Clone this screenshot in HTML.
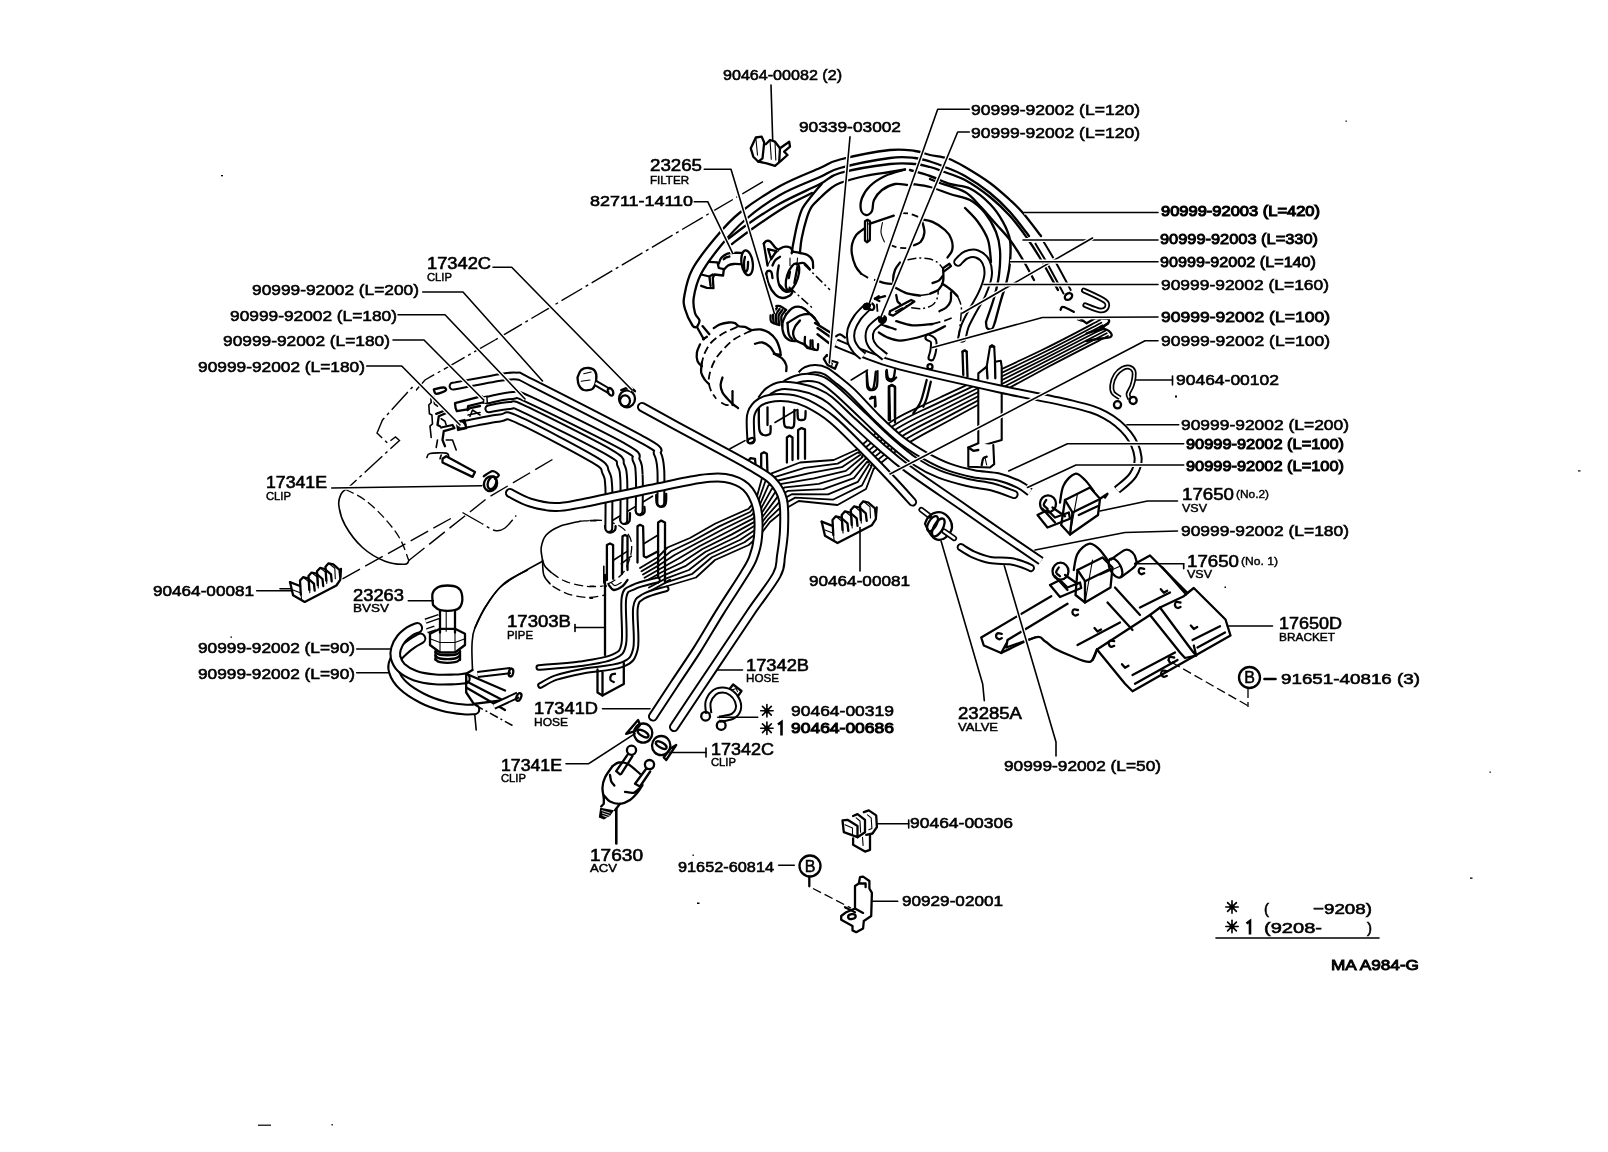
<!DOCTYPE html>
<html>
<head>
<meta charset="utf-8">
<title>Vacuum Piping</title>
<style>
html,body{margin:0;padding:0;background:#fff;}
body{width:1608px;height:1152px;overflow:hidden;font-family:"Liberation Sans",sans-serif;}
svg{display:block;position:absolute;left:0;top:0;filter:grayscale(1);}
text{font-family:"Liberation Sans",sans-serif;fill:#000;stroke:#000;stroke-width:.6px;}
.p{font-size:15.3px;}
.k{font-size:16.3px;letter-spacing:0;}
.s{font-size:11.3px;stroke-width:.45px;}
.m{font-size:11px;stroke-width:.4px;}
.ln{fill:none;stroke:#000;stroke-width:1.6;stroke-linecap:round;stroke-linejoin:round;}
.th{fill:none;stroke:#000;stroke-width:2.3;stroke-linecap:round;stroke-linejoin:round;}
.tn{fill:none;stroke:#000;stroke-width:1.1;stroke-linecap:round;stroke-linejoin:round;}
.w{fill:#fff;stroke:#000;stroke-width:2.1;stroke-linecap:round;stroke-linejoin:round;}
.dd{fill:none;stroke:#000;stroke-width:1.4;stroke-dasharray:24 4 3 4;}
.da3{fill:none;stroke:#000;stroke-width:1.4;stroke-dasharray:20 6;}
.dd2{fill:none;stroke:#000;stroke-width:1.5;stroke-dasharray:9 3 2 3;}
.da2{fill:none;stroke:#000;stroke-width:1.8;stroke-dasharray:8 4;}
.da{fill:none;stroke:#000;stroke-width:1.3;stroke-dasharray:9 4;}
</style>
</head>
<body>
<svg width="1608" height="1152" viewBox="0 0 1608 1152">
<rect x="0" y="0" width="1608" height="1152" fill="#fff"/>

<g id="art">
<defs>
<path id="h1" d="M1038.5 241C1040.6 244.5 1046.2 253.4 1051 262C1055.8 270.6 1064.8 287.4 1067.5 292.5"/>
<path id="h2" d="M958 262C959.3 260.8 962.8 256.3 966 255C969.2 253.7 973.7 252.8 977 254C980.3 255.2 984.2 258.3 986 262C987.8 265.7 988.7 270.7 988 276C987.3 281.3 984.7 288 982 294C979.3 300 974.8 306.7 972 312C969.2 317.3 966.7 321.7 965 326C963.3 330.3 962.5 336 962 338"/>
<path id="h3" d="M928.3 337.5C929.2 338.1 932.5 338.8 933.3 340.8C934.2 342.9 933.7 347.2 933.3 350C933 352.8 931.7 356.2 931.3 357.5"/>
<path id="h4" d="M595.5 383L609.5 391.2"/>
<path id="h5" d="M453 386.2C460.8 384.8 489.2 379.2 500 377.5C510.8 375.8 512.1 375.3 517.5 376.2C522.9 377.2 511.2 372.2 532.5 383C553.8 393.8 624.2 429.5 645 441.2C665.8 453 654.9 449 657.5 453.8C660.1 458.5 660.2 461.8 660.8 470C661.3 478.2 660.8 497.5 660.8 503"/>
<path id="h6" d="M487.5 400C491.7 399.2 505.4 395.5 512.5 395.5C519.6 395.5 511.2 391.3 530 400C548.8 408.7 607.3 437.5 625 447.5C642.7 457.5 633.9 455.4 636.2 460C638.6 464.6 638.8 466.5 639.2 475C639.8 483.5 639.2 505 639.2 511"/>
<path id="h7" d="M488.8 408.8C492.3 408.2 504 405.4 510 405.5C516 405.6 508.4 401.7 525 409.5C541.6 417.3 593.5 443.2 609.5 452.5C625.5 461.8 618.4 460.4 620.8 465C623.1 469.6 623.2 470.8 623.8 480C624.2 489.2 623.8 513.8 623.8 520.5"/>
<path id="h8" d="M461.2 425C467.7 423.8 490.6 418.9 500 418C509.4 417.1 501.9 412.6 517.5 419.5C533.1 426.4 579 450.7 593.8 459.5C608.5 468.3 603.2 467.8 605.8 472.5C608.2 477.2 608.2 478.2 608.8 487.5C609.2 496.8 608.8 521.7 608.8 528.5"/>
<path id="h9" d="M510 493C513.3 494.6 522.5 500.2 530 502.5C537.5 504.8 546.7 506.8 555 507C563.3 507.2 564.2 506.7 580 503.7C595.8 500.7 630 493.1 650 489C670 484.9 687.5 480.8 700 479C712.5 477.2 717.3 476.7 725 478C732.7 479.3 740.7 482 746 487C751.3 492 755 499.7 757 508C759 516.3 758.7 528.7 758 537C757.3 545.3 755.4 551.7 753 558C750.6 564.3 749.2 566 743.7 575C738.2 584 727.8 599.5 720 612C712.2 624.5 704.4 638.2 696.9 650C689.4 661.8 682.3 671.9 675 683C667.7 694.1 656.7 710.9 653 716.5"/>
<path id="h10" d="M642 407C651.7 412.3 682 428.9 700 438.7C718 448.5 737.9 458.9 750 466C762.1 473.1 767 475.3 772.5 481C778 486.7 781.1 491.8 783 500C784.9 508.2 784.3 520.7 784 530C783.7 539.3 782.2 548.5 781 556C779.8 563.5 781.7 565.7 776.7 575C771.7 584.3 759.5 599.5 751 612C742.5 624.5 734 637.3 725.5 650C717 662.7 708.6 675.2 700 688C691.4 700.8 678.3 720.5 674 727"/>
<path id="h11" d="M801 375C801.8 374.3 803.6 371.7 806 370.6C808.4 369.6 812.2 368.6 815.5 368.7C818.8 368.8 822 369.2 825.6 371C829.2 372.8 832.6 375.9 837 379.4C841.4 382.9 845.3 385.6 852 392C858.7 398.4 868.7 409.9 877 418C885.3 426.1 893.9 434.3 902 440.6C910.1 446.9 917.8 451.6 925.6 456C933.4 460.4 940.7 464.1 948.7 467C956.7 469.9 965.4 472 973.7 473.7C982 475.4 991.2 475.2 998.7 477C1006.2 478.8 1013.5 481.9 1018.7 484.4C1023.9 486.9 1028.1 490.7 1030 492"/>
<path id="h12" d="M786 384C787.6 383.2 791.7 380.5 795.5 379.4C799.3 378.3 804.4 377.3 809 377.5C813.6 377.7 818 378 823 380.6C828 383.2 832.1 386.9 839 393C845.9 399.1 856 409.1 864.4 417C872.8 424.9 880.8 433.1 889.4 440.6C898 448.1 907.7 456.4 916 462C924.3 467.6 930.4 470.6 939 474C947.6 477.4 958.6 480.3 967.5 482.5C976.4 484.7 984.8 485 992.5 487C1000.2 489 1010.4 493.2 1014 494.5"/>
<path id="h13" d="M761 400C762.3 398.5 765.3 393.4 768.6 391C771.9 388.6 775.9 386.3 781 385.6C786.1 384.9 793.2 385.9 799 387C804.8 388.1 810.8 389.8 816 392C821.2 394.2 824 395.2 830 400C836 404.8 843.7 412.9 852 420.6C860.3 428.3 870.7 438 880 446C889.3 454 894.4 458.9 907.7 468.7C921 478.5 944.6 494.3 960 505C975.4 515.7 986.5 523.7 1000 533C1013.5 542.3 1034.2 556.3 1041 561"/>
<path id="h14" d="M751 440C750.9 436 749.6 421.9 750.6 416C751.6 410.1 754 407.3 757 404.4C760 401.5 763.4 399.8 768.7 398.7C774 397.6 782.2 397.2 788.7 398C795.2 398.8 800.3 400.1 807.5 403.7C814.7 407.3 823.1 412.1 832 419.4C840.9 426.7 850.9 437.4 861 447.5C871.1 457.6 883.9 470.9 892.5 480C901.1 489.1 909.2 498.3 912.5 502"/>
<path id="h15" d="M420.4 638.5C419.1 639.3 415.3 641.2 412.5 643.1C409.7 645 406.7 647.2 403.8 650C400.8 652.8 396.7 656.5 395 660C393.3 663.5 392.4 667 393.8 671.2C395.1 675.5 398.4 681.1 403.1 685.6C407.8 690.1 415.1 694.7 421.9 698.1C428.6 701.6 436.8 704.4 443.8 706.2C450.7 708.1 458.6 708.9 463.8 709.4C468.9 709.9 472.6 709.4 474.4 709.4"/>
<path id="h16" d="M417.2 627.9C416 628.4 412.7 629.4 410 631.2C407.3 633.1 403.6 635.8 401.2 638.8C398.9 641.7 396.9 645.6 396 648.8C395.1 651.9 394.8 654.4 395.6 657.5C396.5 660.6 398 664.5 401.2 667.5C404.5 670.5 409.4 673.6 415 675.6C420.6 677.6 428.3 678.8 435 679.4C441.7 680 450 679.5 455 679.4C460 679.2 463.1 678.6 464.8 678.5"/>
<path id="h17" d="M425.5 621.2L439 616.5"/>
<path id="h18" d="M427 630.8L435 628"/>
<path id="h19" d="M477.5 674.5L510.5 670.5"/>
<path id="h20" d="M493.8 706.2L518 695"/>
<path id="h21" d="M666.2 588.8C662.5 590 648.9 593.1 643.8 596.2C638.6 599.4 636.9 598.8 635.5 607.5C634.1 616.2 637.7 639.2 635.5 648.8C633.3 658.2 631.3 660.8 622.5 664.5C613.7 668.2 593.5 669.1 582.5 671.2C571.5 673.4 563.2 675.1 556.2 677.5C549.2 679.9 543.1 684.2 540.5 685.5"/>
<path id="h22" d="M657.5 580C653.5 581.2 639.3 584.1 633.8 587C628.2 589.9 625.7 588 624 597.5C622.3 607 625.7 633.8 623.8 643.8C621.8 653.7 619.8 653.7 612.5 657C605.2 660.3 592.3 662 580 663.8C567.7 665.5 545.6 666.9 538.8 667.5"/>
<path id="h23" d="M836 343C840 344.6 849.3 348.7 860 352.5C870.7 356.3 876.7 359.9 900 366C923.3 372.1 971.3 382.7 1000 389C1028.7 395.3 1054.5 399.7 1072 404C1089.5 408.3 1095.7 410 1105 415C1114.3 420 1122.5 427 1128 434C1133.5 441 1137.2 450.2 1138 457C1138.8 463.8 1136.5 469.5 1133 475C1129.5 480.5 1119.7 487.5 1117 490"/>
<path id="h24" d="M868.1 306.2C866.4 308.1 860.3 313.5 857.5 317.5C854.7 321.5 852.3 326 851.2 330C850.2 334 850.4 337.9 851.2 341.2C852.1 344.6 854.3 347.5 856.2 350C858.2 352.5 862 355.2 863.1 356.2"/>
<path id="h25" d="M882.5 318.8C880.6 320.4 873.4 325.4 871.2 328.8C869.1 332.1 869 335.6 869.4 338.8C869.8 341.9 871.1 344.5 873.8 347.5C876.4 350.5 883.1 355.3 885 356.9"/>
<path id="h26" d="M1083.8 290.4C1087.3 292.1 1101.2 298.1 1105 301C1108.8 303.9 1107.3 306.3 1106.5 307.9C1105.7 309.4 1103.5 310.8 1100 310.4C1096.5 309.9 1087.7 306 1085.2 305.1"/>
<path id="h27" d="M1120 397.9C1118.9 397 1114.5 395.1 1113.1 392.9C1111.8 390.7 1111.5 387.8 1111.9 384.8C1112.3 381.7 1113.9 377.5 1115.6 374.8C1117.4 372 1120.2 369.8 1122.5 368.5C1124.8 367.2 1127.5 366.8 1129.4 367.2C1131.2 367.7 1133 369.3 1133.8 371C1134.5 372.7 1134.3 374.8 1134 377.2C1133.7 379.8 1132.9 383.2 1131.9 386C1130.9 388.8 1128.4 391.9 1128.1 394.1C1127.8 396.3 1129.7 398.3 1130 399.1"/>
<path id="h28" d="M921.3 509.7L929.2 515.8"/>
<path id="h29" d="M944.2 531.3L954.2 538.3"/>
<path id="h30" d="M960.8 547.2C962.9 548.4 968.5 552.4 973.3 554.5C978.2 556.6 983.9 558.9 990 560C996.1 561.1 1004.4 560.4 1010 561.2C1015.6 561.9 1019.9 563.5 1023.3 564.7C1026.8 565.8 1029.6 567.4 1030.8 568"/>
<path id="h31" d="M708.8 713.5C708.6 711.6 707.3 705.7 708.1 702.2C709 698.8 711.4 694.9 713.8 692.9C716.1 690.8 719.6 690 722.5 690C725.4 690 728.8 691 731.2 692.9C733.8 694.7 736.4 698.2 737.5 701C738.6 703.8 738.9 707.2 738.1 709.8C737.4 712.2 735.5 714.5 733.1 716C730.7 717.5 726 718 723.8 718.5C721.5 719 720.1 719 719.4 719.1"/>
</defs>
<!-- a_dome -->
<path class="th" d="M697 327C696.2 326.8 694.5 328.5 692.5 325.5C690.5 322.5 686.4 314 685 309C683.6 304 683.1 302.2 684.4 295.5C685.6 288.8 687.2 278.8 692.5 269C697.8 259.2 708.1 246.4 716 237C723.9 227.6 729.3 221 740 212.5C750.7 204 766.7 193.4 780 186C793.3 178.6 810 172.4 820 168C830 163.6 828.3 162.5 840 159.5C851.7 156.5 877.5 151.4 890 150C902.5 148.6 908.3 150.2 915 151C921.7 151.8 924.5 153.8 930 155C935.5 156.2 942.2 156.5 948 158.5C953.8 160.5 958 162.9 965 167C972 171.1 982.5 177.5 990 183C997.5 188.5 1004.5 195 1010 200C1015.5 205 1017.8 207 1023 213C1028.2 219 1038 232.2 1041 236"/>
<path class="th" d="M697 327C697.4 325.9 699.8 322.8 699.5 320.5C699.2 318.2 696 316.8 695 313C694 309.2 692.7 304.5 693.7 298C694.7 291.5 696.5 282.8 701 274C705.5 265.2 713.7 254.5 721 245.5C728.3 236.5 735.2 228.4 745 220C754.8 211.6 767.5 202.2 780 195C792.5 187.8 810 181.5 820 177C830 172.5 828.3 171.2 840 168C851.7 164.8 877.5 159.7 890 158C902.5 156.3 908.3 157.4 915 158C921.7 158.6 925 160 930 161.5C935 163 939.2 164.6 945 167C950.8 169.4 957.5 171.7 965 176C972.5 180.3 982.5 187 990 193C997.5 199 1003.5 204.8 1010 212C1016.5 219.2 1025.8 232 1029 236"/>
<path class="th" d="M727 240C730.5 237.3 739.2 230.1 748 224C756.8 217.9 768 210.2 780 203.5C792 196.8 810 189.1 820 184C830 178.9 828.3 176.3 840 173C851.7 169.7 877.5 165.5 890 164C902.5 162.5 908.3 163.5 915 164C921.7 164.5 925.3 165.8 930 167C934.7 168.2 937.2 169.3 943 171.5C948.8 173.7 957.2 175.8 965 180C972.8 184.2 982.5 191 990 197C997.5 203 1003.8 209.2 1010 216C1016.2 222.8 1022 231 1027 238C1032 245 1034.8 249.3 1040 258C1045.2 266.7 1055 284.7 1058 290"/>
<use href="#h1" fill="none" stroke="#000" stroke-width="10" stroke-linecap="butt" stroke-linejoin="round"/>
<use href="#h1" fill="none" stroke="#fff" stroke-width="6" stroke-linecap="butt" stroke-linejoin="round"/>
<ellipse class="th" cx="1068.5" cy="296.5" rx="4" ry="3" transform="rotate(-35 1068.5 296.5)"/>
<path class="th" d="M732 244C735.3 241.5 743.2 235.2 752 229C760.8 222.8 775 213 785 207C795 201 807.5 195.3 812 193"/>
<path class="th" d="M800 252C800.3 249.7 800.6 243.9 801.7 238.3C802.8 232.7 805 223.6 806.7 218.3C808.4 213 809.5 210.1 811.7 206.7C813.9 203.3 817 200.9 820 198C823 195.1 826.7 191.5 830 189C833.3 186.5 834.2 185.2 840 183C845.8 180.8 856.7 177.8 865 176C873.3 174.2 883.3 173.1 890 172C896.7 170.9 902.5 169.9 905 169.5"/>
<path class="th" d="M791.7 253.3C792 251.6 792.3 248.3 793.3 243.3C794.3 238.3 796 229.1 797.5 223.3C799 217.5 800.1 212.9 802.5 208.3C804.9 203.7 808.5 199.9 811.7 195.8C815 191.7 820.3 185.6 822 183.5"/>
<path class="th" style="stroke-width:2.4" d="M910 170C913.3 171 923.3 173.7 930 176C936.7 178.3 943.3 181.9 950 184C956.7 186.1 963.3 185.2 970 188.5C976.7 191.8 984.5 198.4 990 204C995.5 209.6 999.7 216 1003 222C1006.3 228 1008.8 233.3 1010 240C1011.2 246.7 1010.5 255.3 1010 262C1009.5 268.7 1008.5 273.7 1007 280C1005.5 286.3 1003 293 1001 300C999 307 996 318.3 995 322"/>
<path class="th" d="M912 184C915 184.5 923.7 185.3 930 187C936.3 188.7 943.3 191.8 950 194C956.7 196.2 964.2 196.8 970 200C975.8 203.2 980.7 207.7 985 213C989.3 218.3 993.5 225.8 996 232C998.5 238.2 999.5 242.8 1000 250C1000.5 257.2 1000 267 999 275C998 283 996.2 290.2 994 298C991.8 305.8 987.3 318 986 322"/>
<path class="th" d="M930 179C931.7 179.7 934.2 180.8 940 183C945.8 185.2 958.3 188.2 965 192C971.7 195.8 974.8 200.7 980 206C985.2 211.3 991 218.3 996 224C1001 229.7 1005.5 234 1010 240C1014.5 246 1019 253.3 1023 260C1027 266.7 1032.2 276.7 1034 280"/>
<path class="th" d="M965 208C967.2 210.3 974.2 216.7 978 222C981.8 227.3 985.8 233.3 988 240C990.2 246.7 990.5 258.3 991 262"/>
<path class="th" d="M986 322C986.2 323 986 326.8 987 328C988 329.2 990.7 330 992 329C993.3 328 994.5 323.2 995 322"/>
<path class="th" d="M905 169.5C901.7 170.6 890.8 173.2 885 176C879.2 178.8 873.8 182.3 870 186C866.2 189.7 863.5 194 862 198C860.5 202 860.3 207.2 861 210C861.7 212.8 864.2 214.8 866 215C867.8 215.2 870.7 213.5 872 211C873.3 208.5 872.3 203.5 874 200C875.7 196.5 878.5 192.7 882 190C885.5 187.3 890.8 184.8 895 184C899.2 183.2 905 184.8 907 185"/>
<use href="#h2" fill="none" stroke="#000" stroke-width="9.5" stroke-linecap="round" stroke-linejoin="round"/>
<use href="#h2" fill="none" stroke="#fff" stroke-width="5.5" stroke-linecap="round" stroke-linejoin="round"/>
<!-- a_dome2 -->
<path class="th" d="M697.5 328L703.8 339.2"/>
<path class="th" d="M702.5 326.1L709.4 334.2"/>
<path class="th" d="M703.1 339.2L706.9 336.8"/>
<path class="th" d="M718.8 263.6C719.2 262.7 719.8 259.7 721.2 258C722.7 256.3 725.2 254.5 727.5 253.6C729.8 252.8 732.6 252.9 735 252.8C737.4 252.6 740.7 253 741.9 253"/>
<path class="th" d="M723.8 259.2C724.2 258.9 725.3 257.8 726.2 257.4C727.2 256.9 728.9 256.6 729.4 256.5"/>
<path class="th" d="M723.8 269.9C724.5 269.1 726.5 266.5 728.1 265.5C729.8 264.5 731.6 264.2 733.8 264C735.9 263.8 740 264.2 741.2 264.2"/>
<ellipse class="th" cx="747.1" cy="262.8" rx="5.6" ry="12.5" transform="rotate(-8 747.1 262.8)"/>
<path class="th" d="M745 256.8C744.8 257.8 744 260.5 744 263C744 265.5 744.4 270.7 745 271.8C745.6 272.8 747 270.9 747.5 269.2C748 267.6 748 263 748.1 261.8"/>
<path class="th" d="M708.8 261.8L717.5 262.4L718.8 268L723.8 269.2L723.1 275.5L714.4 274.5L712.8 278L713.5 288.2L706.9 287.8L701.2 285.8"/>
<path class="th" d="M701.2 274.5L709.4 276.5L710.6 285.8"/>
<path class="th" d="M709.4 276.5L712.8 274.5"/>
<path class="th" d="M763.8 243.6C764.2 243.2 765.2 241.5 766.2 241.1C767.3 240.8 768.4 240.1 770.2 241.5C772.1 242.9 775.2 248.4 777.5 249.2C779.8 250.1 781.7 247.1 783.8 246.8C785.8 246.4 788.4 246.5 790 247.4C791.6 248.2 792.6 251 793.1 251.8"/>
<path class="th" d="M763.8 243.6L767.5 265.5"/>
<path class="th" d="M768.1 249.2L771.2 259.2L776.2 251.1L768.1 249.2"/>
<path class="tn" d="M767.5 265.5C768.3 264 770.6 259.2 772.5 256.8C774.4 254.2 777.7 251.5 778.8 250.5"/>
<path class="th" d="M793.1 251.8C794.3 252 797.6 252.5 800 253C802.4 253.5 805.4 253.6 807.5 254.9C809.6 256.1 811.6 258.3 812.5 260.5C813.4 262.7 813 266.8 813.1 268"/>
<path class="th" d="M766.2 273.6C766.5 273.2 766.7 271.4 767.5 271.1C768.3 270.8 770.4 270.6 771.2 271.8C772.1 272.9 772.3 277 772.5 278"/>
<path class="th" d="M766.2 273.6C766.7 275.4 767.3 280.8 768.8 284.2C770.2 287.7 772.7 292 775 294.2C777.3 296.5 780 297.8 782.5 298C785 298.2 788.3 296.5 790 295.5C791.7 294.5 792.1 292.4 792.5 291.8"/>
<path class="th" d="M772.5 265.5C772.9 264.7 773.8 262 775 260.5C776.2 259 779.2 257.4 780 256.8"/>
<path class="th" d="M778.8 265.5C778.5 267.2 777.3 272 777.5 275.5C777.7 279 778.5 284 780 286.8C781.5 289.5 784.2 291.1 786.2 291.8C788.3 292.4 791.5 290.7 792.5 290.5"/>
<ellipse class="th" cx="792.5" cy="276.8" rx="5.5" ry="14" transform="rotate(18 792.5 276.8)"/>
<path class="th" d="M788.8 278L790 271.8"/>
<path class="th" d="M794.4 283L797.5 266.8"/>
<path class="th" d="M796.2 264.2C797.5 264 801.5 262.2 803.8 263C806 263.8 809 268.2 810 269.2"/>
<path class="th" style="stroke-width:2.6" d="M780 285.5C780.8 286.3 783.3 289.9 785 290.5C786.7 291.1 789.2 289.5 790 289.2"/>
<path class="dd2" d="M803.8 264.2L830 289.9"/>
<path class="dd2" d="M788.8 286.8L812.5 308"/>
<path class="tn" d="M790 258L790 265.5"/>
<path class="tn" d="M797.5 258L796.9 265.5"/>
<path class="th" d="M776.9 308C776.2 309 773.6 311.8 773.1 314.2C772.6 316.8 773.6 321.5 773.8 323"/>
<path class="th" d="M779.6 309C779 310 776.4 312.5 775.9 315C775.4 317.5 776.4 322.5 776.5 324"/>
<path class="th" d="M782.4 310C781.8 311 779.1 313.2 778.6 315.8C778.1 318.2 779.1 323.5 779.2 325"/>
<path class="th" d="M785.1 311C784.5 311.9 781.9 314 781.4 316.5C780.9 319 781.9 324.4 782 326"/>
<path class="th" d="M776.2 306.1C776.9 306.1 778.3 305.5 780 306.1C781.7 306.8 785.2 309.2 786.2 309.9"/>
<path class="th" d="M770.6 315.5C770.7 316.5 769.9 320.2 771.2 321.8C772.6 323.3 777.5 324.4 778.8 324.9"/>
<path class="th" d="M786.2 314.2C787.3 313.2 790.2 309.2 792.5 308C794.8 306.8 797.9 306.5 800 306.8C802.1 307 804.2 308.8 805 309.2"/>
<path class="th" d="M786.2 314.2C785.6 315.7 782.9 319.7 782.5 323C782.1 326.3 782.5 331.3 783.8 334.2C785 337.2 787.7 339.4 790 340.5C792.3 341.6 796.2 341 797.5 341.1"/>
<path class="th" d="M787.5 323C789.6 321.8 796.2 317 800 315.5C803.8 314 807.6 313.8 810 314.2C812.4 314.7 813.6 317.4 814.4 318"/>
<path class="th" d="M787.5 323C787.7 324.9 787.9 331.4 788.8 334.2C789.6 337.1 791.9 338.9 792.5 339.9"/>
<path class="th" d="M805 309.2L814.4 318"/>
<path class="th" d="M800 320.5C799.2 321.5 796.1 324.5 795 326.8C793.9 329 792.9 332 793.1 334.2C793.3 336.5 794.5 338.8 796.2 340.5C798 342.2 801.9 343 803.8 344.2C805.6 345.5 806.9 347.4 807.5 348"/>
<path class="th" d="M814.4 318L818.8 324.2"/>
<path class="th" style="stroke-width:2.4" d="M815 323L831.2 333"/>
<path class="th" style="stroke-width:2.4" d="M817.5 328L830 336.8"/>
<path class="th" style="stroke-width:2.4" d="M817.5 334.2L828.8 343"/>
<path class="th" d="M805 336.8C805 338 804.2 342.4 805 344.2C805.8 346.1 809.1 348.6 810 348C810.9 347.4 810.5 341.8 810.6 340.5"/>
<path class="th" d="M812.5 340.5C812.6 341.8 812.3 346.4 813.1 348C814 349.6 816.7 350.5 817.5 349.9C818.3 349.2 818 345.2 818.1 344.2"/>
<path class="th" d="M807.5 348L815 349.9"/>
<path class="th" d="M713.8 328.1C714.8 327.5 717.5 325.3 720 324.4C722.5 323.4 726.2 322.7 728.8 322.5C731.2 322.3 733.3 322.5 735 323.1C736.7 323.8 737.1 325.6 738.8 326.2C740.4 326.9 742.9 326.2 745 326.9C747.1 327.5 748.8 329.6 751.2 330C753.8 330.4 757.1 329 760 329.4C762.9 329.8 766 330.7 768.8 332.5C771.5 334.3 774.4 337.1 776.2 340C778.1 342.9 779.3 347.5 780 350C780.7 352.5 780.5 354.2 780.6 355"/>
<path class="th" d="M755 343.8C756.2 343.5 760 342 762.5 342.5C765 343 767.9 345 770 346.9C772.1 348.8 772.9 351.8 775 353.8C777.1 355.7 780.6 356.9 782.5 358.8C784.4 360.6 785.6 362.9 786.2 365C786.9 367.1 786.2 370.2 786.2 371.2"/>
<path class="th" d="M773.8 353.8L780.6 355"/>
<path class="da2" d="M737.5 326.9C735 328 726.9 331.1 722.5 333.8C718.1 336.4 714.2 339.4 711.2 342.5C708.3 345.6 706.6 349.2 705 352.5C703.4 355.8 702.4 360.8 701.9 362.5"/>
<path class="da2" d="M751.2 330.6C748.5 332 739.6 335.7 735 338.8C730.4 341.8 727.1 345.2 723.8 348.8C720.4 352.3 717.3 356 715 360C712.7 364 711 368.8 710 372.5C709 376.2 708.5 379.4 708.8 382.5C709 385.6 710 388.5 711.2 391.2C712.5 394 715.4 397.5 716.2 398.8"/>
<path class="th" d="M700 344.4C699.5 345.7 697.3 349.7 696.9 352.5C696.5 355.3 696.7 359 697.5 361.2C698.3 363.5 701.1 365.4 701.9 366.2"/>
<path class="th" d="M701.9 362.5C701.8 364.2 700.7 369.6 701.2 372.5C701.8 375.4 703.8 378.1 705 380C706.2 381.9 708.1 383.1 708.8 383.8"/>
<path class="th" d="M722.5 377.5C722.2 378.8 720.6 382.5 720.6 385C720.6 387.5 721.4 390.2 722.5 392.5C723.6 394.8 725.8 396.9 727.5 398.8C729.2 400.6 730.7 402.2 732.5 403.8C734.3 405.3 737.2 407.4 738.1 408.1"/>
<path class="th" d="M732.5 391.2L732.5 405"/>
<path class="da2" d="M721.2 402.5C722.1 402.9 724.6 404.7 726.2 405C727.9 405.3 730.4 404.5 731.2 404.4"/>
<!-- a_bundle -->
<path class="ln" style="stroke-width:1.8" d="M1100 320C1090 325.2 1066.7 338.1 1040 351C1013.3 363.9 964.4 386 940 397.5C915.6 409 907.7 411.2 893.7 420C879.7 428.8 862.3 445 856 450"/>
<path class="ln" style="stroke-width:1.8" d="M1101.3 322.7C1091.3 327.9 1067.6 340.8 1041 353.8C1014.4 366.9 966.2 389.4 942 401.1C917.8 412.8 909.4 415.5 895.6 424.2C881.7 432.8 865.1 448.3 859 453.1"/>
<path class="ln" style="stroke-width:1.8" d="M1102.7 325.3C1092.6 330.6 1068.4 343.4 1042 356.7C1015.6 369.9 968.1 392.7 944 404.7C919.9 416.6 911.2 419.7 897.5 428.3C883.8 436.9 867.8 451.6 861.9 456.2"/>
<path class="ln" style="stroke-width:1.8" d="M1104 328C1093.8 333.2 1069.3 346.1 1043 359.5C1016.7 372.9 969.9 396.1 946 408.2C922.1 420.4 912.9 424 899.4 432.5C885.8 441 870.6 454.9 864.9 459.4"/>
<path class="ln" style="stroke-width:1.8" d="M1105.3 330.7C1095.1 335.9 1070.2 348.8 1044 362.3C1017.8 375.9 971.8 399.4 948 411.8C924.2 424.2 914.6 428.2 901.2 436.7C887.9 445.1 873.4 458.2 867.8 462.5"/>
<path class="ln" style="stroke-width:1.8" d="M1106.7 333.3C1096.4 338.6 1071.1 351.5 1045 365.2C1018.9 378.8 973.6 402.8 950 415.4C926.4 428 916.3 432.5 903.1 440.8C889.9 449.2 876.1 461.5 870.8 465.6"/>
<path class="ln" style="stroke-width:1.8" d="M1108 336C1097.7 341.3 1072 354.2 1046 368C1020 381.8 975.5 406.2 952 419C928.5 431.8 918 436.7 905 445C892 453.3 878.9 464.8 873.7 468.7"/>
<path class="ln" style="stroke-width:1.8" d="M856 450L833.7 460L800 462.5L771 473.7L762 478L756 500L748.7 508.7L715 523.7L690 538L667.5 547.5L657.5 557.5L640 568"/>
<path class="ln" style="stroke-width:1.8" d="M858.2 452.3L837.7 463.6L804.7 467.8L774.5 477.1L765.2 481.7L757.8 502.8L750.1 512L719.2 526.4L693.1 540.8L671.1 551.2L658.8 561.1L641.5 571.2"/>
<path class="ln" style="stroke-width:1.8" d="M860.4 454.7L841.8 467.2L809.4 473.1L777.9 480.5L768.4 485.4L759.5 505.5L751.5 515.3L723.4 529L696.2 543.5L674.6 555L660 564.6L643 574.5"/>
<path class="ln" style="stroke-width:1.8" d="M862.6 457L845.8 470.9L814.1 478.4L781.4 483.9L771.6 489.1L761.2 508.2L752.9 518.6L727.6 531.7L699.4 546.2L678.2 558.8L661.2 568.2L644.5 577.8"/>
<path class="ln" style="stroke-width:1.8" d="M864.9 459.4L849.9 474.5L818.8 483.8L784.9 487.4L774.8 492.8L763 511L754.4 521.9L731.9 534.4L702.5 549L681.8 562.5L662.5 571.8L646 581"/>
<path class="ln" style="stroke-width:1.8" d="M867.1 461.7L853.9 478.1L823.4 489.1L788.3 490.8L777.9 496.4L764.8 513.8L755.8 525.1L736.1 537L705.6 551.8L685.3 566.2L663.8 575.3L647.5 584.2"/>
<path class="ln" style="stroke-width:1.8" d="M869.3 464L857.9 481.8L828.1 494.4L791.8 494.2L781.1 500.1L766.5 516.5L757.2 528.4L740.3 539.7L708.8 554.5L688.9 570L665 578.9L649 587.5"/>
<path class="ln" style="stroke-width:1.8" d="M871.5 466.4L862 485.4L832.8 499.7L795.2 497.6L784.3 503.8L768.2 519.2L758.6 531.7L744.5 542.3L711.9 557.2L692.4 573.8L666.2 582.4L650.5 590.8"/>
<path class="ln" style="stroke-width:1.8" d="M873.7 468.7L866 489L837.5 505L798.7 501L787.5 507.5L770 522L760 535L748.7 545L715 560L696 577.5L667.5 586L652 594"/>
<!-- a_center2 -->
<path class="th" d="M758.8 407.5C758.9 411.2 758.5 425.4 759.4 430C760.2 434.6 762 434.4 763.8 435C765.5 435.6 768.9 435.2 770 433.8C771.1 432.3 770.5 427.5 770.6 426.2"/>
<path class="th" d="M767.5 407.5L767.5 425"/>
<path class="th" d="M783.8 407.5C783.9 410.4 783.5 421.7 784.4 425C785.2 428.3 787.2 427.3 788.8 427.5C790.3 427.7 792.8 429.2 793.8 426.2C794.7 423.3 794.3 412.7 794.4 410"/>
<path class="th" d="M797.5 410C797.6 411.5 797.5 417.1 798.1 418.8C798.8 420.4 800.4 420 801.5 420C802.6 420 804.3 420.2 805 418.8C805.7 417.3 805.5 412.5 805.6 411.2"/>
<path class="th" d="M786.9 462.5L786.9 437.5L789.4 435.6L792.5 437.5L792.5 460"/>
<path class="th" d="M798.1 458.8L798.1 430L801.5 428.1L805 429.4L805 458.8"/>
<path class="th" d="M761.2 472.5L761.2 453.8L764 452.2L766.9 453.8L767.5 475"/>
<path class="th" d="M748.8 460L750.6 458.1L755 458.8L755.6 465"/>
<path class="th" d="M866.9 375C867 377.1 866.6 385 867.5 387.5C868.4 390 870.9 390.2 872.5 390C874.1 389.8 876 389.4 876.9 386.2C877.7 383.1 877.4 373.8 877.5 371.2"/>
<path class="th" d="M886.2 371.2C886.4 372.5 885.9 377.1 886.9 378.8C887.8 380.4 890.3 381.5 891.9 381.2C893.4 381 895.5 378.1 896.2 377.5"/>
<path class="th" d="M888.8 420L888.8 386.2L891.9 385L895 386.9L895 422.5"/>
<path class="th" d="M870 398.8L871.9 396.9L875 397.5L875.6 406.2"/>
<path class="ln" d="M730 448.8L745 440.6"/>
<path class="ln" d="M730 452.5L773.8 476.2"/>
<path class="ln" d="M851.2 380L867.5 370"/>
<path class="ln" d="M775 422.5L796.2 410"/>
<path class="w" d="M978.3 446.7L978.3 373.3L986.7 366.7L990 346.7L994.2 346.7L995 361.7L1000.8 360.8L1001.7 366.7L1001.7 440L978.3 446.7"/>
<path class="th" d="M986.7 366.7L987.5 378.3"/>
<path class="th" d="M995 361.7L995.3 378.3"/>
<path class="w" d="M978.3 443.3L968.3 447.5L968.3 466.7L990 467.5L994.2 464.2L993.3 445"/>
<path class="th" d="M968.3 447.5L973.3 450.8L978.3 450"/>
<path class="th" d="M986.7 456.7C986.1 456.9 984.2 456.9 983.3 458.3C982.5 459.7 981.9 463.9 981.7 465"/>
<path class="tn" d="M985 457.5L986.7 465"/>
<path class="th" d="M962.5 351.7L963.3 375"/>
<path class="th" d="M966.7 351.7L967.5 376.7"/>
<path class="th" d="M962.5 351.7L964.7 350.3L966.7 351.7"/>
<path class="th" d="M990 346.7L992 345.3L994.2 346.7"/>
<path class="th" d="M866.7 371.7C866.9 374.2 867.2 383.9 868.3 386.7C869.4 389.4 872.1 390.8 873.3 388.3C874.6 385.8 875.4 374.4 875.8 371.7"/>
<path class="th" d="M886.7 370C886.9 371.4 887.2 376.9 888.3 378.3C889.4 379.7 892.2 379.7 893.3 378.3C894.4 376.9 894.7 371.4 895 370"/>
<path class="th" d="M890 420L889.2 386.7L892 385L895 386.7L895 416.7"/>
<path class="th" d="M871.7 398.3L875 396.7L875 406.7"/>
<path class="th" d="M926.7 380C926.1 382.2 924.4 389.4 923.3 393.3C922.2 397.2 921.7 400 920 403.3C918.3 406.7 914.4 411.7 913.3 413.3"/>
<path class="th" d="M930.8 381.7C930.1 384.4 927.9 394.2 926.7 398.3C925.4 402.5 923.9 405.3 923.3 406.7"/>
<use href="#h3" fill="none" stroke="#000" stroke-width="7.6" stroke-linecap="round" stroke-linejoin="round"/>
<use href="#h3" fill="none" stroke="#fff" stroke-width="3.6" stroke-linecap="round" stroke-linejoin="round"/>
<ellipse class="th" cx="930" cy="366.7" rx="2.5" ry="2.5"/>
<path class="th" d="M1080 318.3L1086.7 323.3L1095 318.3"/>
<path class="th" d="M1086.7 333.3L1100 329.2L1108 323.3"/>
<!-- a_center3 -->
<path class="th" d="M656.2 495C656.4 496.5 656 501.8 656.9 503.8C657.7 505.7 659.8 506.9 661.2 506.9C662.7 506.9 664.8 505.9 665.6 503.8C666.5 501.6 666.1 495.4 666.2 493.8"/>
<path class="th" d="M635.6 510C635.8 510.6 636 512.9 636.9 513.8C637.7 514.6 639.4 515.2 640.6 515C641.9 514.8 643.8 513.9 644.4 512.5C645 511.1 644.4 507.8 644.4 506.9"/>
<path class="th" d="M620 518.8C620.3 519.4 620.9 521.7 621.9 522.5C622.8 523.3 624.4 524 625.6 523.8C626.9 523.5 628.6 523 629.4 521.2C630.1 519.5 629.9 514.5 630 513.1"/>
<path class="th" d="M605 526.2C605.3 527.1 605.9 530.2 606.9 531.2C607.8 532.3 609.3 532.7 610.6 532.5C612 532.3 614.2 531 615 530C615.8 529 615.5 526.9 615.6 526.2"/>
<path class="th" d="M658.1 582.5L658.1 522.5L661.2 520.6L665 522.5L665 582.5L670 580"/>
<path class="th" d="M637.5 562.5L637.5 526.2L640 524.8L643.1 526.2L643.8 556.2L646.2 557.5L658.1 551.2"/>
<path class="ln" d="M643.8 543.8L658.1 535"/>
<path class="th" d="M621.9 573.8L622.5 536.2L625 535L627.5 536.2L627.5 570"/>
<path class="th" d="M606.9 580L606.9 545L610 543.5L613.1 545L613.1 578.8"/>
<path class="ln" d="M613.8 560L627.5 551.2"/>
<path class="ln" d="M621.2 563.8L631.2 556.2"/>
<path class="ln" d="M603.8 566.2L603.8 582.5L606.2 586.2"/>
<path class="th" d="M608.8 585C609.6 585.8 611.5 589.8 613.8 590C616 590.2 620.2 587.9 622.5 586.2C624.8 584.6 626.7 581 627.5 580"/>
<path class="tn" d="M611.2 582.5C611.9 583 613.3 585.6 615 585.6C616.7 585.6 620.2 583 621.2 582.5"/>
<path class="ln" d="M611.2 521.2L652.5 496.2"/>
<path class="ln" d="M590 520.6L596.2 520.6"/>
<path class="ln" d="M590 586.2L593.8 586.2"/>
<path class="ln" d="M590 598.1L592.5 598.1"/>
<!-- a_left2 -->
<path class="ln" d="M345.5 489.5C344.8 490.2 342.4 491.2 341.2 493.8C340.1 496.3 338.1 499.8 338.8 505C339.4 510.2 341 517.9 345 525C349 532.1 355.8 541.5 362.5 547.5C369.2 553.5 377.9 558.5 385 561.2C392.1 564 401 564.4 405 564.2C409 564.1 408.1 561.1 408.8 560.5"/>
<path class="da" d="M345.5 489.5C348.8 491.2 358.4 495.1 365 500C371.6 504.9 379.2 512.3 385 518.8C390.8 525.2 396 531.8 400 538.8C404 545.7 407.3 556.9 408.8 560.5"/>
<path class="da3" d="M408.8 560.5L487.5 498L557.5 456.5"/>
<path class="da3" d="M342.5 578.8L455 516.2"/>
<path class="dd" d="M462.5 512.5C465.4 514.2 474.6 519.5 480 522.5C485.4 525.5 490.8 529.6 495 530.5C499.2 531.4 501.5 530.5 505 528C508.5 525.5 514.4 517.6 516.2 515.5"/>
<path class="dd" d="M495 340L425 380L416.2 390L412 387.5L382.5 420L377 433L387.5 443L395.5 437L399.5 440.5L346.2 489.5"/>
<path class="dd" d="M763 181.7L495 340"/>
<ellipse class="th" cx="490.5" cy="483.8" rx="6.5" ry="7.5" transform="rotate(20 490.5 483.8)"/>
<ellipse class="th" cx="492" cy="482.8" rx="4" ry="6.5" transform="rotate(20 492 482.8)"/>
<path class="th" d="M483.8 476.2C485.2 475.4 490 471.5 492.5 471.2C495 471 498.3 473.8 498.8 475C499.2 476.2 495.6 478.1 495 478.8"/>
<path class="th" d="M577.5 377.5C578.1 376.2 579.4 371.6 581.2 370C583.1 368.4 586.5 367.8 588.8 368C591 368.2 593.8 369.2 595 371.2C596.2 373.2 596.7 377.1 596.2 380C595.8 382.9 594.6 387.1 592.5 388.8C590.4 390.4 586 390.6 583.8 390C581.5 389.4 579.8 387.1 578.8 385C577.7 382.9 577.7 378.8 577.5 377.5"/>
<path class="tn" d="M583.8 373.8L591.2 372"/>
<path class="tn" d="M581.2 381.2L590 380"/>
<use href="#h4" fill="none" stroke="#000" stroke-width="6.5" stroke-linecap="butt" stroke-linejoin="round"/>
<use href="#h4" fill="none" stroke="#fff" stroke-width="2.5" stroke-linecap="butt" stroke-linejoin="round"/>
<ellipse class="th" cx="610.5" cy="391.8" rx="2.5" ry="4" transform="rotate(-25 610.5 391.8)"/>
<ellipse class="th" cx="627" cy="398.8" rx="8" ry="8.5"/>
<ellipse class="th" cx="625" cy="400.8" rx="5" ry="5.5"/>
<path class="th" d="M621.2 390C622.7 389.6 627.7 387.3 630 387.5C632.3 387.7 634.2 390.6 635 391.2"/>
<path class="ln" d="M542.5 560C542.3 557.9 540.6 551.7 541.2 547.5C541.9 543.3 543.1 538.5 546.2 535C549.4 531.5 554.4 528.5 560 526.2C565.6 524 576.7 522.1 580 521.2"/>
<path class="da" d="M580 521.2C583.8 521.1 595.8 519.7 602.5 520.5C609.2 521.3 615.4 523.4 620 526.2C624.6 529.1 628.1 533.1 630 537.5C631.9 541.9 632.1 547.1 631.2 552.5C630.4 557.9 627.7 565.4 625 570C622.3 574.6 618.8 577.3 615 580C611.2 582.7 604.6 585.2 602.5 586.2"/>
<path class="ln" d="M542.5 560C542.9 561 543.5 564.2 545 566.2C546.5 568.3 550.2 571.5 551.2 572.5"/>
<path class="da" d="M551.2 572.5C553.5 574 559.4 579 565 581.2C570.6 583.5 578.8 585.4 585 586.2C591.2 587.1 599.6 586.2 602.5 586.2"/>
<path class="ln" d="M542.5 560C542.7 562.5 542.5 571 543.8 575C545 579 549 582.3 550 583.8"/>
<path class="da" d="M552.5 586.2C555 587.5 561.7 591.9 567.5 593.8C573.3 595.6 581.2 597.3 587.5 597.5C593.8 597.7 602.1 595.4 605 595"/>
<path class="ln" d="M542.5 561.2C538.8 563.3 527.1 569.4 520 573.8C512.9 578.1 505.8 581.9 500 587.5C494.2 593.1 489.2 600.8 485 607.5C480.8 614.2 476.7 624.6 475 628"/>
<path class="ln" d="M280 588.8L291.2 588.8"/>
<!-- a_left -->
<use href="#h5" fill="none" stroke="#000" stroke-width="8.8" stroke-linecap="round" stroke-linejoin="round"/>
<use href="#h5" fill="none" stroke="#fff" stroke-width="4.8" stroke-linecap="round" stroke-linejoin="round"/>
<use href="#h6" fill="none" stroke="#000" stroke-width="8.8" stroke-linecap="round" stroke-linejoin="round"/>
<use href="#h6" fill="none" stroke="#fff" stroke-width="4.8" stroke-linecap="round" stroke-linejoin="round"/>
<use href="#h7" fill="none" stroke="#000" stroke-width="8.8" stroke-linecap="round" stroke-linejoin="round"/>
<use href="#h7" fill="none" stroke="#fff" stroke-width="4.8" stroke-linecap="round" stroke-linejoin="round"/>
<use href="#h8" fill="none" stroke="#000" stroke-width="8.8" stroke-linecap="round" stroke-linejoin="round"/>
<use href="#h8" fill="none" stroke="#fff" stroke-width="4.8" stroke-linecap="round" stroke-linejoin="round"/>
<use href="#h9" fill="none" stroke="#000" stroke-width="10" stroke-linecap="round" stroke-linejoin="round"/>
<use href="#h9" fill="none" stroke="#fff" stroke-width="6" stroke-linecap="round" stroke-linejoin="round"/>
<use href="#h10" fill="none" stroke="#000" stroke-width="10" stroke-linecap="round" stroke-linejoin="round"/>
<use href="#h10" fill="none" stroke="#fff" stroke-width="6" stroke-linecap="round" stroke-linejoin="round"/>
<!-- a_left3 -->
<path class="th" d="M442.5 458.8L446.2 456.2L475 471.9L472.5 476.9L442.5 462.5L442.5 458.8"/>
<path class="ln" d="M426.9 457.5C427.4 456.8 426.8 454.2 430 453.5C433.2 452.8 443.1 452.6 446.2 453.1C449.4 453.7 448.3 456.2 448.8 456.9"/>
<path class="ln" d="M440 458.8L441.2 455"/>
<path class="th" d="M433.8 389.4C435.4 389.1 441.8 387.3 443.8 387.5C445.7 387.7 446.9 389.6 445.6 390.6C444.4 391.7 438.2 394 436.2 393.8C434.3 393.5 434.2 390.1 433.8 389.4"/>
<path class="ln" d="M430.6 395L431.2 402.5L428.8 405L429.4 413.8L431.9 415L432.5 423.8L430 426.2L431.2 437.5"/>
<path class="ln" d="M433.8 396.2L434.4 403.8L437.5 406.2L436.9 401.2"/>
<path class="th" d="M436.2 413.8L446.2 410L447.5 412.5L438.8 416.2L437.5 425L440 426.2"/>
<path class="th" d="M441.2 427.5L452.5 425L454.4 428.1L443.8 431.2L442.5 440L445 446.2"/>
<path class="ln" d="M437.5 440L436.2 447.5"/>
<path class="ln" d="M446.2 440L452.5 440L456.2 450"/>
<path class="ln" d="M441.2 418.8L445 421.2L446.2 425"/>
<path class="th" d="M481.9 396.2L455 403.1L455.6 408.1L456.9 411.2L467.5 409.4L468.1 406.2L482.5 402.5"/>
<path d="M481.2 396.5L487.5 395.6L488.1 403.1L482.5 404.0Z" fill="#000"/>
<path d="M484.0 397.5L486.2 397.1L486.5 402.5L484.4 402.9Z" fill="#fff"/>
<path class="th" d="M456.9 421.9L464.4 420L466.2 428.1L458.1 430L456.9 421.9"/>
<path d="M461.2 421.2L465.6 420.2L466.9 428.1Z" fill="#000"/>
<path class="th" d="M467.5 410L470 408.1L480 406"/>
<path class="ln" d="M470 416.2L472.5 410L480 415"/>
<path class="ln" d="M468.1 415L480 412.5"/>
<!-- a_center -->
<use href="#h11" fill="none" stroke="#000" stroke-width="9.2" stroke-linecap="butt" stroke-linejoin="round"/>
<use href="#h11" fill="none" stroke="#fff" stroke-width="5.2" stroke-linecap="butt" stroke-linejoin="round"/>
<use href="#h12" fill="none" stroke="#000" stroke-width="9.2" stroke-linecap="round" stroke-linejoin="round"/>
<use href="#h12" fill="none" stroke="#fff" stroke-width="5.2" stroke-linecap="round" stroke-linejoin="round"/>
<use href="#h13" fill="none" stroke="#000" stroke-width="9.2" stroke-linecap="butt" stroke-linejoin="round"/>
<use href="#h13" fill="none" stroke="#fff" stroke-width="5.2" stroke-linecap="butt" stroke-linejoin="round"/>
<use href="#h14" fill="none" stroke="#000" stroke-width="9.2" stroke-linecap="round" stroke-linejoin="round"/>
<use href="#h14" fill="none" stroke="#fff" stroke-width="5.2" stroke-linecap="round" stroke-linejoin="round"/>
<ellipse class="th" cx="751" cy="440.5" rx="3.6" ry="2.2" transform="rotate(-25 751 440.5)"/>
<!-- a_lower -->
<path class="ln" d="M527.5 570C523.8 572.1 511.2 577.5 505 582.5C498.8 587.5 495 592.5 490 600C485 607.5 478 620 475 627.5C472 635 472.4 637.9 472 645C471.6 652.1 472.4 665.8 472.5 670"/>
<path class="ln" d="M473.8 703.8L476.2 730"/>
<use href="#h15" fill="none" stroke="#000" stroke-width="11.8" stroke-linecap="round" stroke-linejoin="round"/>
<use href="#h15" fill="none" stroke="#fff" stroke-width="7.6" stroke-linecap="round" stroke-linejoin="round"/>
<use href="#h16" fill="none" stroke="#000" stroke-width="11.8" stroke-linecap="round" stroke-linejoin="round"/>
<use href="#h16" fill="none" stroke="#fff" stroke-width="7.6" stroke-linecap="round" stroke-linejoin="round"/>
<path class="th" d="M433 605C432.9 603.1 431.8 596.7 432.5 593.8C433.2 590.8 435 588.9 437.5 587.5C440 586.1 444.2 585.5 447.5 585.5C450.8 585.5 455.1 586.1 457.5 587.5C459.9 588.9 461.1 590.8 461.8 593.8C462.4 596.7 462.4 602.3 461.2 605C460.1 607.7 458.5 609.2 455 610C451.5 610.8 443.7 610.8 440 610C436.3 609.2 434.2 605.8 433 605"/>
<path class="th" d="M440 610L440 632.5"/>
<path class="th" d="M455 610L455 632.5"/>
<path class="tn" d="M446.2 611.2L446.2 631.2"/>
<path class="th" d="M430 633.8L440 628.8L455 628.8L465 633.8L465 645L455 652.5L440 652.5L430 645L430 633.8"/>
<path class="tn" d="M440 628.8L440 652.5"/>
<path class="tn" d="M455 628.8L455 652.5"/>
<path class="tn" d="M430 638.8L440 642.5L455 642.5L465 638.8"/>
<path class="th" d="M435.5 651.8C436.2 652.2 436.8 654.2 440 654.8C443.2 655.2 451.7 655.2 455 654.8C458.3 654.2 459.2 652.2 460 651.8"/>
<path class="th" d="M435.5 655.5C436.2 656 436.8 658 440 658.5C443.2 659 451.7 659 455 658.5C458.3 658 459.2 656 460 655.5"/>
<path class="th" d="M435.5 659.2C436.2 659.8 436.8 661.8 440 662.2C443.2 662.8 451.7 662.8 455 662.2C458.3 661.8 459.2 659.8 460 659.2"/>
<path class="th" d="M435.5 651.2L435.5 660"/>
<path class="th" d="M460 651.2L460 660"/>
<use href="#h17" fill="none" stroke="#000" stroke-width="5.5" stroke-linecap="butt" stroke-linejoin="round"/>
<use href="#h17" fill="none" stroke="#fff" stroke-width="2.5" stroke-linecap="butt" stroke-linejoin="round"/>
<use href="#h18" fill="none" stroke="#000" stroke-width="5.5" stroke-linecap="butt" stroke-linejoin="round"/>
<use href="#h18" fill="none" stroke="#fff" stroke-width="2.5" stroke-linecap="butt" stroke-linejoin="round"/>
<path class="th" d="M472.5 670L466.2 673.8L466.2 692.5L473.8 703.8L505 700"/>
<path class="th" d="M466.2 673.8L505 690.5"/>
<path class="th" d="M466.2 681.2L502.5 700"/>
<path class="th" d="M466.2 687.5L505 710"/>
<use href="#h19" fill="none" stroke="#000" stroke-width="7.2" stroke-linecap="butt" stroke-linejoin="round"/>
<use href="#h19" fill="none" stroke="#fff" stroke-width="3.2" stroke-linecap="butt" stroke-linejoin="round"/>
<ellipse class="th" cx="511" cy="672.5" rx="2.2" ry="4" transform="rotate(10 511 672.5)"/>
<use href="#h20" fill="none" stroke="#000" stroke-width="7.2" stroke-linecap="butt" stroke-linejoin="round"/>
<use href="#h20" fill="none" stroke="#fff" stroke-width="3.2" stroke-linecap="butt" stroke-linejoin="round"/>
<ellipse class="th" cx="518.8" cy="697" rx="2.2" ry="4" transform="rotate(25 518.8 697)"/>
<path class="dd2" d="M475 705L512.5 725.5"/>
<path class="th" d="M605 575L605 655"/>
<use href="#h21" fill="none" stroke="#000" stroke-width="6.6" stroke-linecap="round" stroke-linejoin="round"/>
<use href="#h21" fill="none" stroke="#fff" stroke-width="2.6" stroke-linecap="round" stroke-linejoin="round"/>
<use href="#h22" fill="none" stroke="#000" stroke-width="6.6" stroke-linecap="round" stroke-linejoin="round"/>
<use href="#h22" fill="none" stroke="#fff" stroke-width="2.6" stroke-linecap="round" stroke-linejoin="round"/>
<path class="th" d="M597.5 669.5L597.5 692.5L602.5 695.5L623.8 684L623.8 663"/>
<path class="th" d="M602.5 695.5L602.5 672.5"/>
<path class="th" d="M615 673.8C614.4 674 612 674 611.2 675C610.5 676 610.1 678.8 610.5 680C610.9 681.2 613.2 681.7 613.8 682"/>
<ellipse class="th" cx="643.1" cy="733.1" rx="9.2" ry="9.6"/>
<ellipse class="th" cx="643.1" cy="733.6" rx="6" ry="2.6" transform="rotate(30 643.1 733.6)"/>
<path class="th" d="M626.2 733.8L638.1 720L640 725L635 731.2L626.2 733.8"/>
<ellipse class="th" cx="661.2" cy="745.6" rx="9.2" ry="9.6"/>
<ellipse class="th" cx="661.2" cy="745.1" rx="6" ry="2.6" transform="rotate(30 661.2 745.1)"/>
<path class="th" d="M666.2 760L676.2 745L670 748.8L663.8 757.5L666.2 760"/>
<circle class="th" cx="631.5" cy="750.2" r="4.6"/>
<path class="th" d="M628.1 753.8L616.2 771.2L620 774.4"/>
<path class="th" d="M632.5 756.2L621.2 773.8"/>
<circle class="th" cx="649.5" cy="764.6" r="4.6"/>
<path class="th" d="M646.2 768.8L635 783.8L640 786.5"/>
<path class="th" d="M650.2 771.5L640 786.5"/>
<path class="th" d="M612.5 766.2C613.5 765.6 616.2 762.9 618.8 762.5C621.2 762.1 624 761.9 627.5 763.8C631 765.6 637.9 772.1 640 773.8"/>
<path class="th" d="M612.5 766.2C611.2 768.1 606.7 774 605 777.5C603.3 781 602.7 784.2 602.5 787.5C602.3 790.8 603.5 795.8 603.8 797.5"/>
<path class="th" d="M642.5 785C641.7 786.2 639.6 790 637.5 792.5C635.4 795 632.9 798.1 630 800C627.1 801.9 623.3 803.5 620 803.8C616.7 804 612.7 802.9 610 801.5C607.3 800.1 604.8 796.3 603.8 795.2"/>
<path class="th" d="M610 775C610.2 776 610.5 779.5 611.2 781.2C612 783 613.9 784.9 614.4 785.6"/>
<path class="th" d="M625 791.9C626.5 792 631.2 793.4 633.8 792.8C636.2 792.1 639 788.6 640 787.8"/>
<path class="th" d="M603.8 797.5L603.8 803.8L601.2 806.5"/>
<path class="th" d="M620 803.8L615 810.2"/>
<path d="M600.2 807.8L598.8 817.5L604.0 819.5L610.2 815.8L614.0 810.2Z" fill="#000"/>
<path class="tn" style="stroke:#fff;stroke-width:.8" d="M601.9 810.6L610 813.1"/>
<path class="tn" style="stroke:#fff;stroke-width:.8" d="M602.4 813.1L609.2 815.4"/>
<path class="tn" style="stroke:#fff;stroke-width:.8" d="M602.9 815.6L608.5 817.6"/>
<!-- a_right -->
<use href="#h23" fill="none" stroke="#000" stroke-width="9" stroke-linecap="butt" stroke-linejoin="round"/>
<use href="#h23" fill="none" stroke="#fff" stroke-width="5" stroke-linecap="butt" stroke-linejoin="round"/>
<path class="th" d="M1135 563.8L1150 555.5L1187.5 593L1193.8 588L1225.5 619.5L1230.5 635.5L1132.5 691.2L1125 683.8L1097 649.5L1092.5 660"/>
<path class="th" d="M1097 649.5L1150 615L1160 607.5L1183.8 596.2L1187.5 593"/>
<path class="th" d="M1160 607.5L1192.5 651.2L1196.2 655.5"/>
<path class="th" d="M1150 615L1180 652.5L1185 658L1196.2 655.5L1193.8 645.5"/>
<path class="th" d="M1115 587.5L1140 615"/>
<path class="th" d="M1107.5 602.5L1132.5 630"/>
<path class="th" d="M1162.5 567.5L1186.2 594.5"/>
<path class="th" d="M1140 607.5L1170 592.5"/>
<path class="th" d="M1077.5 645L1120 622.5"/>
<path class="th" d="M1132.5 675L1175 652.5"/>
<path class="th" d="M1135 683.8L1177.5 660"/>
<path class="th" d="M1192.5 640L1220 626.2"/>
<path class="th" d="M1197.5 647.5L1225 632.5"/>
<path class="th" d="M1051.2 596.2L981.2 637.5L983.8 645.5L1001.2 653L1006.2 643.8"/>
<path class="th" d="M1067.5 603.8L1007.5 640L1006.2 647.5L1035 637.5"/>
<path class="th" d="M1001.2 653C1006.9 650.4 1027.7 639.5 1035 637.5C1042.3 635.5 1041.7 639.4 1045 641.2C1048.3 643.1 1050.8 646.4 1055 648.8C1059.2 651.1 1064.2 653.3 1070 655.5C1075.8 657.7 1085.5 662.8 1090 661.8C1094.5 660.8 1095.8 651.5 1097 649.5"/>
<path class="th" d="M1001.8 633.8C1001 633.7 998.4 632.8 997.5 633.2C996.6 633.8 996 635.8 996.2 636.8C996.5 637.8 997.8 639 998.8 639.2C999.7 639.5 1001.2 638.4 1001.8 638.2"/>
<path class="th" d="M1078 610C1077.3 609.9 1074.7 609 1073.8 609.5C1072.8 610 1072.3 612 1072.5 613C1072.7 614 1074.1 615.2 1075 615.5C1075.9 615.8 1077.5 614.7 1078 614.5"/>
<path class="th" d="M1144.2 568.8C1143.5 568.7 1140.9 567.8 1140 568.2C1139.1 568.8 1138.5 570.8 1138.8 571.8C1139 572.8 1140.3 574 1141.2 574.2C1142.2 574.5 1143.8 573.4 1144.2 573.2"/>
<path class="th" d="M1180.5 602.5C1179.8 602.4 1177.2 601.5 1176.2 602C1175.3 602.5 1174.8 604.5 1175 605.5C1175.2 606.5 1176.6 607.8 1177.5 608C1178.4 608.2 1180 607.2 1180.5 607"/>
<path class="th" d="M1114.2 641.2C1113.5 641.2 1110.9 640.2 1110 640.8C1109.1 641.2 1108.5 643.2 1108.8 644.2C1109 645.2 1110.3 646.5 1111.2 646.8C1112.2 647 1113.8 645.9 1114.2 645.8"/>
<path class="th" d="M1166.8 671.2C1166 671.2 1163.4 670.2 1162.5 670.8C1161.6 671.2 1161 673.2 1161.2 674.2C1161.5 675.2 1162.8 676.5 1163.8 676.8C1164.7 677 1166.2 675.9 1166.8 675.8"/>
<path class="th" d="M1174.2 657.5C1173.5 657.4 1170.9 656.5 1170 657C1169.1 657.5 1168.5 659.5 1168.8 660.5C1169 661.5 1170.3 662.8 1171.2 663C1172.2 663.2 1173.8 662.2 1174.2 662"/>
<path class="th" d="M1190.8 625.5L1193.8 629L1197.2 627"/>
<path class="th" d="M1122 664.2L1125 667.8L1128.5 665.8"/>
<path class="th" d="M1094.5 628L1097.5 631.5L1101 629.5"/>
<path class="th" d="M1160.8 589.2L1163.8 592.8L1167.2 590.8"/>
<path class="th" d="M1073.8 570C1074.4 567.3 1075 558.1 1077.5 553.8C1080 549.4 1085.2 544.6 1088.8 543.8C1092.3 542.9 1095.6 546 1098.8 548.8C1101.9 551.5 1106 558.1 1107.5 560"/>
<path class="th" d="M1077.5 570L1102.5 557.5L1112.5 567.5L1110.5 587.5L1085 602.5L1075.5 595L1077.5 570"/>
<path class="th" d="M1085 581.2L1110.5 568.8"/>
<path class="th" d="M1085 581.2L1077.5 570"/>
<path class="th" d="M1085 581.2L1085 602.5"/>
<path class="tn" d="M1092.5 560L1085 602.5"/>
<ellipse class="th" cx="1115.5" cy="568" rx="5.5" ry="10.5" transform="rotate(-28 1115.5 568)"/>
<path class="th" d="M1111.2 559.5C1113.5 557.9 1121.5 551.2 1125 550C1128.5 548.8 1130.6 550.8 1132.5 552.5C1134.4 554.2 1135.8 557.7 1136.2 560C1136.7 562.3 1137.5 563.4 1135 566.2C1132.5 569.1 1123.5 575.2 1121.2 577"/>
<path class="tn" d="M1100 575L1120 566.2"/>
<ellipse class="th" cx="1060.5" cy="571.2" rx="8" ry="8.5"/>
<path class="th" d="M1058.8 567.5C1058.3 568.3 1056 571 1056.2 572.5C1056.5 574 1059.4 575.6 1060 576.2"/>
<path class="th" d="M1050 585L1060 597L1081.2 588L1080 582.5L1067.5 587.5L1060 580L1050 585"/>
<path class="th" d="M1055 576.2L1067.5 590"/>
<path class="th" d="M1065 575L1077.5 583.8"/>
<path class="th" d="M1060 502.5C1060.6 499.6 1061.2 489.8 1063.8 485C1066.2 480.2 1071.5 474.6 1075 473.8C1078.5 472.9 1081.9 477.1 1085 480C1088.1 482.9 1092.3 489.4 1093.8 491.2"/>
<path class="th" d="M1065 500L1090 487.5L1100 498.8L1098 515L1070 534.5L1061.2 525L1065 500"/>
<path class="th" d="M1072.5 512.5L1098 500"/>
<path class="th" d="M1072.5 512.5L1065 500"/>
<path class="th" d="M1072.5 512.5L1070 534.5"/>
<path class="th" d="M1078.8 515L1097.5 506.2"/>
<path class="tn" d="M1077.5 493.8L1070 534.5"/>
<path class="th" d="M1100 498.8L1107.5 493.8L1105 497.5"/>
<ellipse class="th" cx="1048" cy="503.8" rx="8" ry="8.5"/>
<path class="th" d="M1046.2 500C1045.8 500.8 1043.5 503.5 1043.8 505C1044 506.5 1046.9 508.1 1047.5 508.8"/>
<path class="th" d="M1037.5 515L1047.5 527.5L1070 518.8L1068.8 512.5L1055 517.5L1047.5 510L1037.5 515"/>
<path class="th" d="M1042.5 508.8L1055 522.5"/>
<path class="th" d="M1052.5 507.5L1065 516.2"/>
<circle class="th" cx="1249.5" cy="677.5" r="10.5"/>
<text x="1249.5" y="683.3" style="font-size:16px;stroke-width:.5px" text-anchor="middle">B</text>
<path class="th" style="stroke-width:2.6" d="M1264.5 679L1275.5 679"/>
<path class="da" d="M1248 689L1248 707"/>
<path class="da" d="M1247.5 705.5L1167.5 660"/>
<!-- a_dome3 -->
<path class="th" d="M863.8 228.8C862.5 229.8 858.2 232.5 856.2 235C854.3 237.5 853 240.6 852.2 243.8C851.5 246.9 851.3 250 851.9 253.8C852.4 257.5 854.1 262.9 855.6 266.2C857.2 269.6 860.3 272.5 861.2 273.8"/>
<path class="da2" d="M861.2 273.8L870 279"/>
<path class="th" d="M869.4 223.8L893.8 215.6"/>
<path class="da2" d="M900 213.1C901.5 213.2 905.7 212.9 908.8 213.5C911.8 214.1 916.6 216.3 918.1 216.9"/>
<path class="th" d="M921.2 219.4C923.1 219.8 928.5 220.1 932.5 221.9C936.5 223.6 941.9 227.2 945 230C948.1 232.8 950 235.4 951.2 238.8C952.5 242.1 952.9 246.9 952.2 250C951.6 253.1 948.3 256.2 947.5 257.5"/>
<path class="tn" d="M882.5 222.5C882.2 224.2 880.7 229.3 881 232.5C881.3 235.7 883.8 240.3 884.4 241.9"/>
<path class="th" d="M922.5 222.5C922.8 224.2 924.7 229.3 924.4 232.5C924.1 235.7 922.4 239.8 920.6 241.9C918.9 244 914.9 244.7 913.8 245.2"/>
<path class="da2" d="M888.8 244.4C890.2 244.9 894.6 246.9 897.5 247.5C900.4 248.1 904.8 248 906.2 248.1"/>
<path class="th" d="M875 280C876.7 280.5 882.1 282.5 885 283.1C887.9 283.8 891.2 283.9 892.5 284"/>
<path class="th" d="M865 240.6L865 221.2L867.5 219.8L870 221.2L869.8 240L867.2 242.2L865 240.6"/>
<path class="tn" d="M867.5 220.6L867.5 241.2"/>
<path class="dd2" d="M907.5 259.8C909.2 259.5 914 258.3 917.5 258.1C921 258 925.4 258 928.8 258.8C932.1 259.5 935.1 260.8 937.5 262.5C939.9 264.2 942.2 267.7 943.1 268.8"/>
<path class="th" d="M943.1 268.8C943.1 270.8 943.9 277.8 943.1 281.2C942.4 284.7 940.9 287.3 938.8 289.4C936.6 291.5 931.5 293 930 293.8"/>
<path class="th" d="M895 287.5C896.9 288.4 902.1 291.8 906.2 293.1C910.4 294.5 917.7 295.2 920 295.6"/>
<path class="dd2" d="M920 295.6L930 294"/>
<path class="th" d="M900 262.5C899.2 263.8 896.1 267.1 895 270C893.9 272.9 893.1 277.1 893.1 280C893.1 282.9 894.7 286.2 895 287.5"/>
<path class="th" d="M932.5 283.1C933.5 282.7 937.1 281.8 938.8 280.6C940.4 279.5 941.9 277 942.5 276.2"/>
<path class="th" d="M896.2 295C896.5 296 896.9 299.8 897.5 301.2C898.1 302.7 899.6 303.3 900 303.8"/>
<path class="dd2" d="M911.2 307.8C913.1 307.9 919 309 922.5 308.5C926 308 930 306.8 932.5 305C935 303.2 936.6 300 937.5 297.5C938.4 295 938 291.2 938.1 290"/>
<path class="th" d="M939.4 311.2C940.5 310.6 944.4 309.2 946.2 307.5C948.1 305.8 949.8 303.8 950.6 301.2C951.4 298.8 950.9 294 951 292.5"/>
<path class="th" d="M896.2 321.2C899 321.9 906.5 324.9 912.5 325.4C918.5 325.8 929.2 324.2 932.5 324"/>
<path class="da2" d="M932.5 324C934.6 323.4 941.4 321.8 945 320.6C948.6 319.4 952.8 317.5 954.4 316.9"/>
<path class="th" d="M942.5 283.8C944 284.8 948.8 287.9 951.2 290C953.8 292.1 956.5 295.2 957.5 296.2"/>
<path class="dd2" d="M957.5 296.2C958.1 297.9 960.7 302.3 961.2 306.2C961.8 310.2 961 315 960.6 320C960.2 325 959.1 333.5 958.8 336.2"/>
<path class="th" d="M882.5 325C883.8 325.4 887.8 326.8 890 327.5C892.2 328.2 894.7 329.1 895.6 329.4"/>
<path class="th" d="M878.8 332.5C880.2 333.3 884 336.1 887.5 337.5C891 338.9 895 340.6 900 340.6C905 340.6 912.1 338.9 917.5 337.5C922.9 336.1 927.9 334.4 932.5 332.5C937.1 330.6 942.9 327.3 945 326.2"/>
<path class="th" d="M890 311.2L911.2 300L914.4 301.5L893.1 315.6L889.4 314.4L890 311.2"/>
<path class="dd2" d="M895 311.9L912.5 302.8"/>
<path class="th" d="M943.1 268.1L949.4 263.8L951 266.2L944.4 271.2"/>
<path class="th" d="M875 298.8L885 296.2"/>
<path class="th" d="M875 298.8L878.8 296.2"/>
<path class="th" d="M875 298.8L879.4 301"/>
<path class="da2" d="M876.9 303.8L877.5 312.5"/>
<use href="#h24" fill="none" stroke="#000" stroke-width="9.3" stroke-linecap="butt" stroke-linejoin="round"/>
<use href="#h24" fill="none" stroke="#fff" stroke-width="5.3" stroke-linecap="butt" stroke-linejoin="round"/>
<use href="#h25" fill="none" stroke="#000" stroke-width="9.3" stroke-linecap="butt" stroke-linejoin="round"/>
<use href="#h25" fill="none" stroke="#fff" stroke-width="5.3" stroke-linecap="butt" stroke-linejoin="round"/>
<ellipse cx="866.9" cy="306.2" rx="4.6" ry="3.6" transform="rotate(-40 866.9 306.2)" fill="#000"/>
<ellipse class="th" cx="871" cy="306.5" rx="3" ry="3.6" transform="rotate(-40 871 306.5)"/>
<ellipse cx="882.5" cy="319.4" rx="4.8" ry="4.4" transform="rotate(-40 882.5 319.4)" fill="#000"/>
<path class="th" d="M836.2 336.2C836.9 335.9 838.5 334.2 840 334.4C841.5 334.6 844.2 337 845 337.5"/>
<!-- a_small -->
<path class="th" d="M750.8 148.3L755.8 137.5L761.7 136.7L764.2 142.5L762.5 158.3L758.3 161.7L753.3 156.7L750.8 148.3"/>
<path class="tn" d="M755.8 137.5L757.5 155"/>
<path class="th" d="M765.8 144.2L770 140L775 141.7L780 148.3L779.2 161.7"/>
<path class="tn" d="M770 140L771.3 159.2"/>
<path class="tn" d="M775 141.7L775.8 160"/>
<path class="th" d="M780 148.3L789.2 141.7L790 146.7L784.2 151.7L787.5 155L780 161.7L775 165.8L766.7 163.3L758.3 161.7"/>
<use href="#h26" fill="none" stroke="#000" stroke-width="5.6" stroke-linecap="round" stroke-linejoin="round"/>
<use href="#h26" fill="none" stroke="#fff" stroke-width="2" stroke-linecap="round" stroke-linejoin="round"/>
<path class="th" d="M1060.6 309.8C1061 309.3 1060.9 306.5 1063.1 306.9C1065.3 307.2 1072 311 1073.8 311.9"/>
<path class="th" d="M1093.8 317.9C1095.6 318 1102.5 318.2 1105 318.5C1107.5 318.8 1108.3 318.5 1108.8 319.4C1109.2 320.2 1109 322.4 1107.5 323.8C1106 325.1 1101.2 326.9 1100 327.5"/>
<path class="th" d="M1086.2 341C1088.5 340.6 1096 339.1 1100 338.5C1104 337.9 1108.1 338.1 1110 337.2C1111.9 336.4 1112.1 334.9 1111.2 333.5C1110.4 332.1 1107.5 329.5 1105 329.1C1102.5 328.8 1097.7 330.9 1096.2 331.2"/>
<path class="tn" d="M1077.5 319.8C1078.5 320.1 1083.1 321.8 1083.8 321.6C1084.4 321.4 1081.7 319 1081.2 318.5"/>
<use href="#h27" fill="none" stroke="#000" stroke-width="5" stroke-linecap="butt" stroke-linejoin="round"/>
<use href="#h27" fill="none" stroke="#fff" stroke-width="1.6" stroke-linecap="butt" stroke-linejoin="round"/>
<circle class="th" cx="1117.5" cy="404.8" r="3.6"/>
<circle class="th" cx="1133.1" cy="400.4" r="3.6"/>
<path class="th" d="M833.3 535L832.5 520L835.8 516.3L840.8 517.5L847.5 523.3L848.3 530.8"/>
<path class="tn" d="M835.8 516.3L842.5 521.7L843 533"/>
<path class="th" d="M842.5 530L841.7 515L845 511.3L850 512.5L856.7 518.3L857.5 525.8"/>
<path class="tn" d="M845 511.3L851.7 516.7L852.2 528"/>
<path class="th" d="M851.7 525L850.8 510L854.2 506.3L859.2 507.5L865.8 513.3L866.7 520.8"/>
<path class="tn" d="M854.2 506.3L860.8 511.7L861.3 523"/>
<path class="th" d="M860.8 520L860 505L863.3 501.3L868.3 502.5L875 508.3L875.8 515.8"/>
<path class="tn" d="M863.3 501.3L870 506.7L870.5 518"/>
<path class="th" d="M821.7 521.7L825 535.8L837.5 543L871.7 525.3L875.8 519.2L876.7 507.5"/>
<path class="th" d="M821.7 521.7L832.5 525.8"/>
<path class="tn" d="M825 530L833.3 533.3L834.2 540.8"/>
<path class="th" d="M300.8 594.5L300 580.6L303.1 577.2L307.8 578.3L313.9 583.7L314.7 590.6"/>
<path class="tn" d="M303.1 577.2L309.3 582.1L309.8 592.6"/>
<path class="th" d="M309.3 589.9L308.5 576L311.6 572.6L316.3 573.6L322.5 579L323.2 586"/>
<path class="tn" d="M311.6 572.6L317.8 577.5L318.3 588"/>
<path class="th" d="M317.8 585.2L317 571.3L320.1 567.9L324.8 569L331 574.4L331.7 581.4"/>
<path class="tn" d="M320.1 567.9L326.3 572.9L326.8 583.4"/>
<path class="th" d="M326.3 580.6L325.5 566.7L328.6 563.3L333.3 564.4L339.5 569.8L340.2 576.7"/>
<path class="tn" d="M328.6 563.3L334.8 568.2L335.3 578.7"/>
<path class="th" d="M290 582.1L293.1 595.3L304.7 601.9L336.4 585.5L340.2 579.8L341 569"/>
<path class="th" d="M290 582.1L300 586"/>
<path class="tn" d="M293.1 589.9L300.8 593L301.6 599.9"/>
<use href="#h28" fill="none" stroke="#000" stroke-width="5.8" stroke-linecap="round" stroke-linejoin="round"/>
<use href="#h28" fill="none" stroke="#fff" stroke-width="2.4" stroke-linecap="round" stroke-linejoin="round"/>
<path class="th" d="M925 523.7C925.5 522.6 926.6 519.2 928 517.5C929.4 515.8 931.1 514.2 933.3 513.3C935.6 512.5 939 511.7 941.7 512.5C944.3 513.3 947.4 515.8 949.2 518.3C950.9 520.8 952.3 524.6 952 527.5C951.7 530.4 949.6 533.8 947.5 535.8C945.4 537.9 941.8 540 939.2 540C936.5 540 934 538.6 931.7 535.8C929.3 533.1 926.1 525.7 925 523.7"/>
<ellipse class="th" cx="932.5" cy="523.7" rx="4" ry="8.5" transform="rotate(30 932.5 523.7)"/>
<ellipse class="th" cx="938.3" cy="527.5" rx="4.5" ry="10" transform="rotate(30 938.3 527.5)"/>
<use href="#h29" fill="none" stroke="#000" stroke-width="5.8" stroke-linecap="round" stroke-linejoin="round"/>
<use href="#h29" fill="none" stroke="#fff" stroke-width="2.4" stroke-linecap="round" stroke-linejoin="round"/>
<use href="#h30" fill="none" stroke="#000" stroke-width="8.3" stroke-linecap="round" stroke-linejoin="round"/>
<use href="#h30" fill="none" stroke="#fff" stroke-width="4.3" stroke-linecap="round" stroke-linejoin="round"/>
<use href="#h31" fill="none" stroke="#000" stroke-width="7.2" stroke-linecap="butt" stroke-linejoin="round"/>
<use href="#h31" fill="none" stroke="#fff" stroke-width="3.2" stroke-linecap="butt" stroke-linejoin="round"/>
<path class="th" d="M730 688.5L733.1 684.5L741.5 691L738.1 695.8"/>
<path class="tn" d="M732.5 689.8L736.2 688.5L737.5 691.6"/>
<circle class="th" cx="705.6" cy="716.2" r="4.4" fill="#fff"/>
<circle class="th" cx="721.2" cy="725.4" r="4.4" fill="#fff"/>
<path class="th" style="stroke-width:1.6" d="M760.7 710.8L773.1 710.8"/>
<path class="th" style="stroke-width:1.6" d="M762.5 706.4L771.3 715.1"/>
<path class="th" style="stroke-width:1.6" d="M766.9 704.5L766.9 717"/>
<path class="th" style="stroke-width:1.6" d="M771.3 706.4L762.5 715.1"/>
<circle cx="766.9" cy="710.8" r="2.6" fill="#000"/>
<path class="th" style="stroke-width:1.6" d="M760.7 728.2L773.1 728.2"/>
<path class="th" style="stroke-width:1.6" d="M762.5 723.9L771.3 732.6"/>
<path class="th" style="stroke-width:1.6" d="M766.9 722L766.9 734.5"/>
<path class="th" style="stroke-width:1.6" d="M771.3 723.9L762.5 732.6"/>
<circle cx="766.9" cy="728.2" r="2.6" fill="#000"/>
<path class="th" style="stroke-width:2.6;stroke-linecap:butt;stroke-linejoin:miter" d="M778 724.5L781.5 722L781.5 735.5"/>
<path class="th" style="stroke-width:1.6" d="M1225.8 907L1238.2 907"/>
<path class="th" style="stroke-width:1.6" d="M1227.6 902.6L1236.4 911.4"/>
<path class="th" style="stroke-width:1.6" d="M1232 900.8L1232 913.2"/>
<path class="th" style="stroke-width:1.6" d="M1236.4 902.6L1227.6 911.4"/>
<circle cx="1232.0" cy="907.0" r="2.6" fill="#000"/>
<path class="th" style="stroke-width:1.6" d="M1225.8 926.5L1238.2 926.5"/>
<path class="th" style="stroke-width:1.6" d="M1227.6 922.1L1236.4 930.9"/>
<path class="th" style="stroke-width:1.6" d="M1232 920.3L1232 932.7"/>
<path class="th" style="stroke-width:1.6" d="M1236.4 922.1L1227.6 930.9"/>
<circle cx="1232.0" cy="926.5" r="2.6" fill="#000"/>
<path class="th" style="stroke-width:2.6;stroke-linecap:butt;stroke-linejoin:miter" d="M1246.5 923.5L1250 921L1250 934.5"/>
<path class="th" d="M842.5 820.4L847.5 819.8L857.5 826L857.5 837.2L843.8 832.2L842.5 820.4"/>
<path class="tn" d="M845 824.8L852.5 827.9L852.5 833.5"/>
<path class="th" d="M853.1 816L857.5 814.1L865 819.8L865 832.2L857.5 837.2"/>
<path class="tn" d="M856.2 817.9L860 821L860.6 832.2"/>
<path class="th" d="M863.8 812.2L868.8 810.4L876.2 815.4L876.9 827.2L872.5 833.5L866.2 834.8"/>
<path class="tn" d="M867.5 814.8L871.2 817.9L871.9 828.5L868.8 829.8"/>
<path class="th" d="M853.1 838.5L853.1 844.8L865 851.6L870 849.8L870 834.8"/>
<path class="tn" d="M862.5 837.2L863.1 845.4"/>
<path class="th" d="M855 908.5L855 886L858.8 883.5L860 877.2L863.1 876.6L869.4 881L869.4 888.5L871.9 892.9L871.2 916L863.8 921L863.1 928.5L856.2 932.2L852.5 930.4L852.5 926L841.2 919.8L841.2 916L846.2 912.2L855 908.5"/>
<path class="th" d="M855 908.5L863.1 912.9"/>
<path class="th" d="M860 883.5L865.6 883.5L865.6 887.2"/>
<ellipse class="th" cx="851.9" cy="916.6" rx="3.8" ry="2.4" transform="rotate(-10 851.9 916.6)"/>
<path class="th" d="M845 907.2L855 912.2"/>
<path class="th" d="M823.8 358.8L826.9 355L830 356.9L828.8 360L837.5 362.5L835 368.8L827.5 365L823.8 358.8"/>
<path class="tn" d="M828.8 360L832.5 363.8L831.2 366.9"/>
<!-- a_leaders -->
<path d="M493 267.3L511.7 267.3L632 390" fill="none" stroke="#fff" stroke-width="4.2"/>
<path class="ln" d="M493 267.3L511.7 267.3L632 390"/>
<path d="M422.7 292L463 292L542.5 381" fill="none" stroke="#fff" stroke-width="4.2"/>
<path class="ln" d="M422.7 292L463 292L542.5 381"/>
<path d="M398 314.7L445 314.7L525 399" fill="none" stroke="#fff" stroke-width="4.2"/>
<path class="ln" d="M398 314.7L445 314.7L525 399"/>
<path d="M393 340L424 340L483.7 400" fill="none" stroke="#fff" stroke-width="4.2"/>
<path class="ln" d="M393 340L424 340L483.7 400"/>
<path d="M366.7 366L401.7 366L460 425" fill="none" stroke="#fff" stroke-width="4.2"/>
<path class="ln" d="M366.7 366L401.7 366L460 425"/>
<path class="ln" d="M771 85L772.7 140"/>
<path d="M850 136.7L829.3 363" fill="none" stroke="#fff" stroke-width="4.2"/>
<path class="ln" d="M850 136.7L829.3 363"/>
<path d="M704.3 169.3L731 169.3L774.3 313.3" fill="none" stroke="#fff" stroke-width="4.2"/>
<path class="ln" d="M704.3 169.3L731 169.3L774.3 313.3"/>
<path d="M694.3 201.7L707.7 201.7L732.7 253.3" fill="none" stroke="#fff" stroke-width="4.2"/>
<path class="ln" d="M694.3 201.7L707.7 201.7L732.7 253.3"/>
<path d="M969.3 109.3L937.7 109.3L869.3 303.3" fill="none" stroke="#fff" stroke-width="4.2"/>
<path class="ln" d="M969.3 109.3L937.7 109.3L869.3 303.3"/>
<path d="M969.3 132L957.7 132L881 316.7" fill="none" stroke="#fff" stroke-width="4.2"/>
<path class="ln" d="M969.3 132L957.7 132L881 316.7"/>
<path d="M1158 212.5L1024 212.5" fill="none" stroke="#fff" stroke-width="4.2"/>
<path class="ln" d="M1158 212.5L1024 212.5"/>
<path d="M1158 240L1023 240" fill="none" stroke="#fff" stroke-width="4.2"/>
<path class="ln" d="M1158 240L1023 240"/>
<path d="M1092.5 238L962.5 313" fill="none" stroke="#fff" stroke-width="4.2"/>
<path class="ln" d="M1092.5 238L962.5 313"/>
<path d="M1158 261.7L1010 261.7" fill="none" stroke="#fff" stroke-width="4.2"/>
<path class="ln" d="M1158 261.7L1010 261.7"/>
<path d="M1158 284.5L984 284.5" fill="none" stroke="#fff" stroke-width="4.2"/>
<path class="ln" d="M1158 284.5L984 284.5"/>
<path d="M1158 317L1042.5 317.5L932.5 347.5" fill="none" stroke="#fff" stroke-width="4.2"/>
<path class="ln" d="M1158 317L1042.5 317.5L932.5 347.5"/>
<path d="M1158 340.7L1145 340.7L890 474" fill="none" stroke="#fff" stroke-width="4.2"/>
<path class="ln" d="M1158 340.7L1145 340.7L890 474"/>
<path class="ln" d="M1136 380L1172.5 380"/>
<path class="ln" d="M1172.5 376L1172.5 385"/>
<path class="ln" d="M1178.7 424.7L1127 424.7"/>
<path d="M1183.7 443.7L1067.5 443.7L1008.7 471" fill="none" stroke="#fff" stroke-width="4.2"/>
<path class="ln" d="M1183.7 443.7L1067.5 443.7L1008.7 471"/>
<path d="M1183.7 465L1076 465L1027.5 487.5" fill="none" stroke="#fff" stroke-width="4.2"/>
<path class="ln" d="M1183.7 465L1076 465L1027.5 487.5"/>
<path class="ln" d="M1177.5 501L1147.5 501L1100 511"/>
<path class="ln" d="M1177.5 531L1125 532.5L1035 550"/>
<path class="ln" d="M1183.7 563.7L1137.5 563.7"/>
<path class="ln" d="M1183.7 563.7L1183.7 568.7"/>
<path class="ln" d="M1272.5 626L1227.5 626"/>
<path d="M331.7 488L481.7 485.7" fill="none" stroke="#fff" stroke-width="4.2"/>
<path class="ln" d="M331.7 488L481.7 485.7"/>
<path class="ln" d="M256.7 590.7L291.7 590.7"/>
<path class="ln" d="M408.3 600.7L433.3 600.7"/>
<path class="ln" d="M356.7 649L390 649"/>
<path class="ln" d="M356.7 672.7L388.3 672.7"/>
<path class="ln" d="M575 627.5L605 627.5"/>
<path class="ln" d="M575 624.5L575 631.5"/>
<path class="ln" d="M602.5 708.7L650 708.7"/>
<path class="ln" d="M717.5 670L742.5 670"/>
<path class="ln" d="M670 752.5L706 752.5"/>
<path class="ln" d="M706 748L706 757"/>
<path class="ln" d="M566 763.7L588.7 763.7L635 733.7"/>
<path class="ln" d="M860 527.5L860 571"/>
<path class="ln" d="M717.7 717.3L757.7 717.3"/>
<path d="M941 540.7L982.7 684L984.3 700.7" fill="none" stroke="#fff" stroke-width="4.2"/>
<path class="ln" d="M941 540.7L982.7 684L984.3 700.7"/>
<path d="M1004.3 565.7L1056 742L1056 756" fill="none" stroke="#fff" stroke-width="4.2"/>
<path class="ln" d="M1004.3 565.7L1056 742L1056 756"/>
<path class="ln" style="stroke-width:2.6" d="M616.3 809L616.3 843.5"/>
<path class="ln" d="M778.7 865.3L794.3 865.3"/>
<circle class="th" cx="810" cy="866" r="10.5"/>
<text x="810" y="871.8" style="font-size:16px;stroke-width:.5px" text-anchor="middle">B</text>
<path class="th" d="M809.3 877L809.3 886.3"/>
<path class="da" d="M813 888.5L851 908"/>
<path class="ln" d="M877.7 823.7L908.7 823.7"/>
<path class="ln" d="M908.7 820L908.7 828"/>
<path class="ln" d="M872.7 901.3L897.7 901.3"/>
<path class="ln" style="stroke-width:1.6" d="M1216 938L1379 938"/>
<rect x="221" y="175" width="2" height="1.3" fill="#000"/>
<rect x="1345.5" y="120.5" width="1.3" height="1.3" fill="#000"/>
<rect x="1175" y="395.5" width="2" height="2" fill="#000"/>
<rect x="1578" y="470.3" width="2.5" height="1.2" fill="#000"/>
<rect x="1224.5" y="586.5" width="1.5" height="1.5" fill="#000"/>
<rect x="692.5" y="854.5" width="1.3" height="1.5" fill="#000"/>
<rect x="697" y="902.5" width="2.5" height="1.5" fill="#000"/>
<rect x="1489.5" y="771.5" width="1.3" height="1.3" fill="#000"/>
<rect x="1470" y="877.5" width="2.5" height="1.3" fill="#000"/>
<rect x="258" y="1124.6" width="13" height="1.2" fill="#000"/>
<rect x="331.5" y="1124" width="1.3" height="1.5" fill="#000"/>
<rect x="230.5" y="636.5" width="1.5" height="1.3" fill="#000"/>
</g>
<g id="labels" transform="translate(0,-0.7)" opacity="0.999">
<text class="k" x="427" y="270" textLength="64" lengthAdjust="spacingAndGlyphs">17342C</text>
<text class="s" x="427" y="282" textLength="25" lengthAdjust="spacingAndGlyphs">CLIP</text>
<text class="p" x="252" y="296" textLength="167" lengthAdjust="spacingAndGlyphs">90999-92002 (L=200)</text>
<text class="p" x="230" y="322" textLength="167" lengthAdjust="spacingAndGlyphs">90999-92002 (L=180)</text>
<text class="p" x="223" y="347" textLength="167" lengthAdjust="spacingAndGlyphs">90999-92002 (L=180)</text>
<text class="p" x="198" y="373" textLength="167" lengthAdjust="spacingAndGlyphs">90999-92002 (L=180)</text>

<text class="p" x="723" y="81" textLength="119" lengthAdjust="spacingAndGlyphs">90464-00082 (2)</text>
<text class="p" x="799" y="133" textLength="102" lengthAdjust="spacingAndGlyphs">90339-03002</text>
<text class="k" x="650" y="172" textLength="52" lengthAdjust="spacingAndGlyphs">23265</text>
<text class="s" x="650" y="185" textLength="39" lengthAdjust="spacingAndGlyphs">FILTER</text>
<text class="p" x="590" y="207" textLength="103" lengthAdjust="spacingAndGlyphs">82711-14110</text>
<text class="p" x="971" y="116" textLength="169" lengthAdjust="spacingAndGlyphs">90999-92002 (L=120)</text>
<text class="p" x="971" y="139" textLength="169" lengthAdjust="spacingAndGlyphs">90999-92002 (L=120)</text>

<text class="p" x="1161" y="217" textLength="159" lengthAdjust="spacingAndGlyphs" style="stroke-width:1.15px">90999-92003 (L=420)</text>
<text class="p" x="1160" y="245" textLength="158" lengthAdjust="spacingAndGlyphs" style="stroke-width:.95px">90999-92003 (L=330)</text>
<text class="p" x="1160" y="268" textLength="156" lengthAdjust="spacingAndGlyphs" style="stroke-width:.85px">90999-92002 (L=140)</text>
<text class="p" x="1161" y="291" textLength="168" lengthAdjust="spacingAndGlyphs">90999-92002 (L=160)</text>
<text class="p" x="1161" y="323" textLength="169" lengthAdjust="spacingAndGlyphs" style="stroke-width:.85px">90999-92002 (L=100)</text>
<text class="p" x="1161" y="347" textLength="169" lengthAdjust="spacingAndGlyphs">90999-92002 (L=100)</text>
<text class="p" x="1176" y="386" textLength="103" lengthAdjust="spacingAndGlyphs">90464-00102</text>

<text class="p" x="1181" y="431" textLength="168" lengthAdjust="spacingAndGlyphs">90999-92002 (L=200)</text>
<text class="p" x="1186" y="450" textLength="158" lengthAdjust="spacingAndGlyphs" style="stroke-width:1.05px">90999-92002 (L=100)</text>
<text class="p" x="1186" y="472" textLength="158" lengthAdjust="spacingAndGlyphs" style="stroke-width:1.05px">90999-92002 (L=100)</text>
<text class="k" x="1182" y="501" textLength="52" lengthAdjust="spacingAndGlyphs">17650</text>
<text class="m" x="1236" y="499" textLength="33" lengthAdjust="spacingAndGlyphs">(No.2)</text>
<text class="s" x="1182" y="513" textLength="25" lengthAdjust="spacingAndGlyphs">VSV</text>
<text class="p" x="1181" y="537" textLength="168" lengthAdjust="spacingAndGlyphs">90999-92002 (L=180)</text>
<text class="k" x="1187" y="568" textLength="52" lengthAdjust="spacingAndGlyphs">17650</text>
<text class="m" x="1241" y="566" textLength="37" lengthAdjust="spacingAndGlyphs">(No. 1)</text>
<text class="s" x="1187" y="579" textLength="25" lengthAdjust="spacingAndGlyphs">VSV</text>
<text class="k" x="1279" y="630" textLength="63" lengthAdjust="spacingAndGlyphs">17650D</text>
<text class="s" x="1279" y="642" textLength="56" lengthAdjust="spacingAndGlyphs">BRACKET</text>
<text class="p" x="1281" y="685" textLength="139" lengthAdjust="spacingAndGlyphs">91651-40816 (3)</text>

<text class="k" x="266" y="489" textLength="61" lengthAdjust="spacingAndGlyphs">17341E</text>
<text class="s" x="266" y="501" textLength="25" lengthAdjust="spacingAndGlyphs">CLIP</text>
<text class="p" x="153" y="597" textLength="101" lengthAdjust="spacingAndGlyphs">90464-00081</text>
<text class="k" x="353" y="602" textLength="51" lengthAdjust="spacingAndGlyphs">23263</text>
<text class="s" x="353" y="613" textLength="36" lengthAdjust="spacingAndGlyphs">BVSV</text>
<text class="p" x="198" y="654" textLength="157" lengthAdjust="spacingAndGlyphs">90999-92002 (L=90)</text>
<text class="p" x="198" y="680" textLength="157" lengthAdjust="spacingAndGlyphs">90999-92002 (L=90)</text>
<text class="k" x="507" y="628" textLength="64" lengthAdjust="spacingAndGlyphs">17303B</text>
<text class="s" x="507" y="640" textLength="26" lengthAdjust="spacingAndGlyphs">PIPE</text>
<text class="k" x="534" y="715" textLength="64" lengthAdjust="spacingAndGlyphs">17341D</text>
<text class="s" x="534" y="727" textLength="34" lengthAdjust="spacingAndGlyphs">HOSE</text>
<text class="k" x="501" y="772" textLength="61" lengthAdjust="spacingAndGlyphs">17341E</text>
<text class="s" x="501" y="783" textLength="25" lengthAdjust="spacingAndGlyphs">CLIP</text>
<text class="k" x="746" y="672" textLength="63" lengthAdjust="spacingAndGlyphs">17342B</text>
<text class="s" x="746" y="683" textLength="33" lengthAdjust="spacingAndGlyphs">HOSE</text>
<text class="k" x="711" y="756" textLength="63" lengthAdjust="spacingAndGlyphs">17342C</text>
<text class="s" x="711" y="767" textLength="25" lengthAdjust="spacingAndGlyphs">CLIP</text>
<text class="p" x="809" y="587" textLength="101" lengthAdjust="spacingAndGlyphs">90464-00081</text>
<text class="p" x="791" y="717" textLength="103" lengthAdjust="spacingAndGlyphs">90464-00319</text>
<text class="p" x="791" y="734" textLength="103" lengthAdjust="spacingAndGlyphs" style="stroke-width:1.05px">90464-00686</text>
<text class="k" x="958" y="720" textLength="64" lengthAdjust="spacingAndGlyphs">23285A</text>
<text class="s" x="958" y="732" textLength="40" lengthAdjust="spacingAndGlyphs">VALVE</text>
<text class="p" x="1004" y="772" textLength="157" lengthAdjust="spacingAndGlyphs">90999-92002 (L=50)</text>

<text class="k" x="590" y="862" textLength="53" lengthAdjust="spacingAndGlyphs">17630</text>
<text class="s" x="590" y="873" textLength="27" lengthAdjust="spacingAndGlyphs">ACV</text>
<text class="p" x="678" y="873" textLength="96" lengthAdjust="spacingAndGlyphs">91652-60814</text>
<text class="p" x="910" y="829" textLength="103" lengthAdjust="spacingAndGlyphs">90464-00306</text>
<text class="p" x="902" y="907" textLength="101" lengthAdjust="spacingAndGlyphs">90929-02001</text>

<text class="p" x="1264" y="915" textLength="5" lengthAdjust="spacingAndGlyphs">(</text>
<text class="p" x="1313" y="915" textLength="59" lengthAdjust="spacingAndGlyphs">−9208)</text>
<text class="p" x="1264" y="934" textLength="58" lengthAdjust="spacingAndGlyphs">(9208-</text>
<text class="p" x="1367" y="934" textLength="5" lengthAdjust="spacingAndGlyphs">)</text>
<text class="p" x="1331" y="971" textLength="88" lengthAdjust="spacingAndGlyphs" style="stroke-width:.95px">MA A984-G</text>
</g>
</svg>
</body>
</html>
